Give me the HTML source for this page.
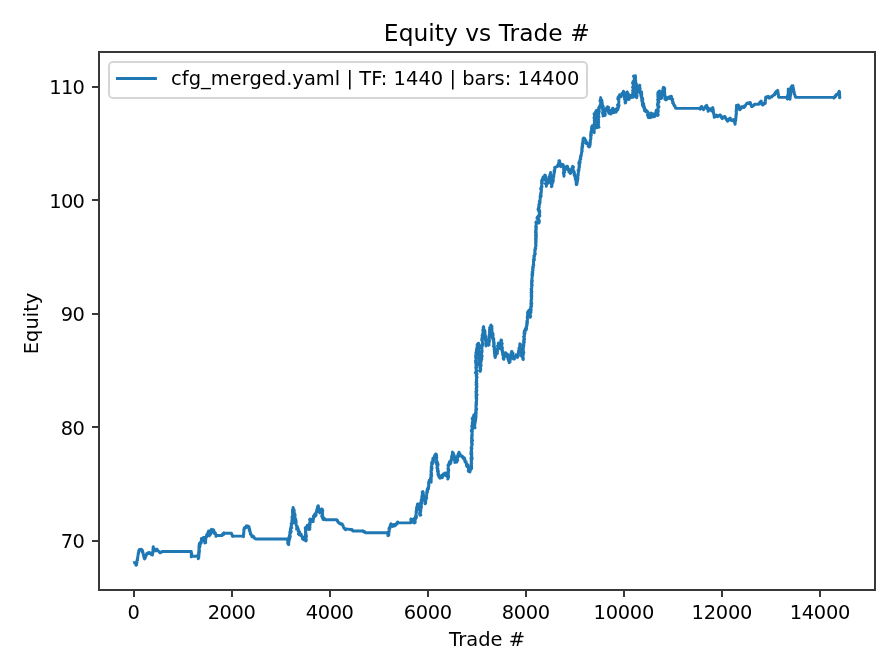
<!DOCTYPE html>
<html lang="en"><head><meta charset="utf-8"><title>Equity vs Trade #</title>
<style>html,body{margin:0;padding:0;background:#fff;}body{width:896px;height:672px;overflow:hidden;}svg{display:block;}text{font-family:"DejaVu Sans","Liberation Sans",sans-serif;fill:#000;}</style></head><body>
<svg width="896" height="672" viewBox="0 0 896 672">
<rect x="0" y="0" width="896" height="672" fill="#ffffff"/>
<path d="M133.44 562.95 L133.76 562.73 L134.09 562.56 L134.43 562.9 L134.66 563.07 L134.74 563 L135.29 563.05 L135.35 563.62 L135.94 563.4 L135.93 565.36 L136.51 564.85 L136.06 564.16 L136.71 563.89 L136.57 563.62 L136.69 563.06 L136.62 562.91 L136.69 562.11 L136.71 561.5 L137 562.35 L136.89 561.86 L136.94 561.42 L136.96 561.76 L136.88 560.97 L137.03 560 L137.19 560.63 L137.1 559.92 L137.56 560.04 L137.31 559.7 L137.47 559.36 L137.58 558.87 L137.41 558.47 L137.72 557.47 L137.66 557.99 L137.79 557.31 L137.8 557.19 L137.9 556.63 L138.08 555.21 L138.05 555.33 L138.06 554.44 L138.46 553.79 L138.22 553.92 L138.3 553.77 L138.32 553.17 L138.44 552.78 L138.26 552.93 L138.69 552.22 L138.83 552.26 L138.49 552.18 L138.87 552.07 L138.85 552.17 L138.8 551.11 L138.69 550.94 L138.74 550.42 L139.02 550.1 L139.32 549.61 L139.54 549.88 L139.91 549.64 L139.84 549.33 L140.18 550.18 L140.52 549.74 L141.12 549.38 L141.06 549.51 L141.37 549.89 L141.89 550.08 L142.1 549.87 L142.23 549.99 L142.65 551.07 L142.28 551.8 L142.63 551.25 L142.76 551.33 L142.77 551.82 L142.94 552.28 L143.11 553.38 L142.97 553.32 L143.29 554.28 L143.24 553.94 L143.36 555 L143.38 555 L143.57 555.06 L143.64 554.71 L143.76 556.01 L143.71 556.14 L143.93 557 L144.04 557.82 L144.37 557.91 L144.3 557.92 L144.27 557.3 L144.52 557.72 L144.61 558.87 L144.56 558.9 L144.62 558.77 L145.09 558.35 L144.94 558.15 L145.11 558.32 L145.02 557.33 L145.27 556.83 L145.17 556.46 L145.54 557.12 L145.74 556.73 L145.57 556.19 L145.74 555.69 L146 556.19 L146.22 555.28 L146.26 555.31 L146.21 555.51 L146.37 554.13 L146.58 554.11 L146.75 553.61 L146.75 553.56 L146.85 554.12 L147.12 553.8 L147.5 553.89 L147.76 553.22 L148.01 553.13 L148.13 552.7 L148.78 553.45 L149.11 552.5 L149.36 553.3 L149.59 553.63 L150.06 553.5 L150.74 552.93 L150.52 553.07 L150.96 553.3 L151.47 553.59 L151.58 554.76 L152.01 554.58 L152.46 555.02 L152.42 553.83 L152.47 554.47 L152.56 554.14 L152.49 553.8 L152.8 553.32 L152.58 552.18 L152.63 552.06 L152.75 552.2 L152.8 551.75 L153.03 551.52 L152.99 550.58 L152.94 550.18 L152.96 550.07 L152.92 549.35 L153.25 549.18 L153.04 549.72 L153.35 549.45 L153.04 548.23 L153.37 547.62 L153.27 546.71 L153.19 546.78 L153.11 547.75 L153.59 547.63 L153.77 548.53 L153.75 548.8 L153.58 548.97 L154.2 548.53 L153.95 548.65 L153.97 549.56 L154.26 550.16 L154.16 549.75 L154.58 550 L154.46 550.33 L154.66 550.9 L154.95 550.65 L155.12 550.42 L155.45 550.49 L155.93 550.16 L156.1 550.89 L156.33 549.54 L156.53 549.92 L156.65 549.37 L157.12 549.2 L157.17 549.56 L157.53 549.93 L157.61 550.31 L157.74 550.54 L157.86 550.77 L158.36 550.83 L158.33 551.13 L158.73 551.4 L159.11 551.35 L159.25 551.94 L159.32 552.17 L159.64 552.4 L160.13 552.63 L160.05 552.86 L160.54 552.58 L160.76 552.47 L161.19 552.09 L161.23 552.33 L161.68 551.77 L161.85 552 L162.18 551.56 L162.52 551.56 L162.87 551.56 L163.22 551.56 L163.56 551.56 L163.91 551.56 L164.26 551.56 L164.6 551.56 L164.95 551.56 L165.3 551.56 L165.64 551.56 L165.99 551.56 L166.34 551.56 L166.68 551.56 L167.03 551.56 L167.38 551.56 L167.72 551.56 L168.07 551.56 L168.42 551.56 L168.76 551.56 L169.11 551.56 L169.46 551.56 L169.8 551.56 L170.15 551.56 L170.5 551.56 L170.84 551.56 L171.19 551.56 L171.54 551.56 L171.88 551.56 L172.23 551.56 L172.58 551.56 L172.92 551.56 L173.27 551.56 L173.62 551.56 L173.96 551.56 L174.31 551.56 L174.66 551.56 L175 551.56 L175.35 551.56 L175.7 551.56 L176.04 551.56 L176.39 551.56 L176.74 551.56 L177.08 551.56 L177.43 551.56 L177.78 551.56 L178.12 551.56 L178.47 551.56 L178.82 551.56 L179.16 551.56 L179.51 551.56 L179.86 551.56 L180.2 551.56 L180.55 551.56 L180.9 551.56 L181.24 551.56 L181.59 551.56 L181.94 551.56 L182.28 551.56 L182.63 551.56 L182.98 551.56 L183.32 551.56 L183.67 551.56 L184.02 551.56 L184.36 551.56 L184.71 551.56 L185.06 551.56 L185.4 551.56 L185.75 551.56 L186.1 551.56 L186.44 551.56 L186.79 551.56 L187.13 551.56 L187.48 551.56 L187.83 551.56 L188.17 551.56 L188.52 551.56 L188.87 551.56 L189.21 551.56 L189.56 551.56 L189.91 551.56 L190.25 551.56 L190.6 551.56 L190.95 551.56 L191.29 551.56 L191.38 552.43 L191.51 552.74 L191.32 553.72 L191.85 553.75 L191.58 553.91 L191.52 553.68 L191.68 554.56 L191.25 554.13 L191.11 554.11 L191.37 555.38 L191.75 555.05 L191.5 556.26 L191.25 556.84 L191.49 556.29 L191.9 556.25 L192.24 556.25 L192.58 556.25 L192.92 556.25 L193.26 556.25 L193.6 556.25 L193.93 556.25 L194.27 556.25 L194.61 556.25 L194.95 556.25 L195.29 556.25 L195.63 556.25 L195.97 556.25 L196.31 556.25 L196.64 556.25 L196.98 556.25 L197.32 556.25 L197.57 555.44 L197.55 555.82 L197.7 555.33 L198.5 555.52 L198.48 558.6 L198.23 558.74 L198.89 557.21 L198.02 555.82 L198.36 556.38 L198.19 556.66 L198.34 556.48 L198.83 556.29 L198.79 555.35 L199.03 555.5 L198.99 554.22 L198.8 554.77 L198.53 552.97 L198.78 551.97 L198.66 552.61 L198.76 551.28 L198.78 550.94 L199.12 550.6 L198.74 550.89 L199.27 552.91 L199.2 553.18 L199.06 552.38 L199.24 552.5 L198.81 552.16 L199.52 550.95 L199.26 549.75 L199.31 548.75 L199.27 547.19 L199.28 547.92 L198.99 547.17 L198.87 549.32 L199.18 548.07 L199.71 546.91 L199.18 546.89 L199.22 545.97 L199.49 546.58 L198.96 546.21 L199.54 545.97 L199.68 546.88 L199.95 546.68 L199.65 544.52 L199.8 544.31 L199.49 543.73 L199.47 543.22 L199.12 545 L200.24 544.66 L199.79 543.45 L199.92 543.42 L200.27 543.22 L200.67 541.78 L200.84 541.84 L201.14 543.05 L201.44 541.87 L202.13 540.47 L201.3 538.65 L202.13 538.38 L201.49 539.67 L202.55 539.14 L202.79 538.33 L203.16 537.66 L202.93 537.99 L203.36 538.55 L203.99 537.22 L203.23 537.57 L204.01 539.04 L204.23 539.42 L204.01 539.09 L204.74 541.64 L204.56 541.81 L205.18 542.45 L205.09 542.2 L205.15 540.98 L205.41 542.03 L205.4 541.71 L205.17 541.73 L204.87 542.99 L205.73 542.65 L205.67 542.31 L205.42 541.98 L205.66 539.89 L205.5 539.93 L205.79 539.49 L205.85 537.95 L205.83 539.77 L205.68 537.98 L206.06 536.82 L205.7 537 L205.89 537.98 L206.41 536.71 L206.33 536.42 L206.55 535.35 L206.82 534.89 L206.68 535.57 L206.86 536.76 L206.79 534.58 L206.74 536.28 L206.71 535.95 L207.05 535.62 L207.13 535.28 L206.59 534.95 L207.08 534.61 L207.47 534.42 L207.47 534.23 L207.17 534.04 L207.95 532.83 L207.64 533.66 L208.56 531.11 L208.43 531.72 L209.05 533.21 L208.66 532.76 L209.4 533.12 L209.57 534.03 L209 534.09 L209.55 534.03 L209.88 534.17 L209.36 535.89 L209.21 535.44 L210.04 534.77 L209.99 534.13 L210.25 533.38 L210.59 534.4 L210.05 531.82 L211.09 532.41 L210.75 530.2 L211.04 530.08 L211.73 530.29 L211.57 530.13 L211.7 530.98 L211.46 529.25 L212.67 531.41 L212.31 530 L213.01 531.49 L213.05 529.71 L213.69 529.87 L213.3 530.37 L213.71 531.33 L213.96 530.94 L214.02 531.61 L213.83 533.15 L214.77 532.29 L214.9 533.22 L214.74 533.89 L215.14 533.61 L215.47 533.02 L215.65 533.79 L216.03 535.32 L215.92 536.32 L216.04 536.33 L216.41 535.49 L216.74 535.49 L217.08 535.49 L217.41 535.49 L217.75 535.49 L218.08 535.49 L218.42 535.49 L218.75 535.49 L219.08 535.49 L219.42 535.49 L219.75 535.49 L220.09 535.49 L220.42 535.49 L220.76 535.49 L221.09 535.49 L221.43 535.49 L221.76 535.49 L222.1 535.49 L222.34 535.09 L222.38 534.27 L222.58 534.75 L223.04 533.63 L223.22 533.82 L223.46 534.73 L223.63 533.3 L223.92 532.8 L224.13 532.88 L224.44 533.21 L224.78 533.21 L225.11 533.21 L225.45 533.21 L225.78 533.21 L226.12 533.21 L226.45 533.21 L226.79 533.21 L227.12 533.21 L227.46 533.21 L227.79 533.21 L228.12 533.21 L228.46 533.21 L228.79 533.21 L229.13 533.21 L229.46 533.21 L229.8 533.21 L230.13 533.21 L230.47 533.21 L230.8 533.21 L231.14 533.21 L231.47 533.21 L231.53 533.85 L231.72 534.13 L231.79 534.39 L231.6 534.44 L231.94 534.61 L232.28 534.92 L232.35 536.18 L232.61 535.82 L232.35 535.82 L232.85 536.44 L233.16 536.16 L233.5 536.16 L233.85 536.16 L234.19 536.16 L234.54 536.16 L234.89 536.16 L235.23 536.16 L235.58 536.16 L235.92 536.16 L236.27 536.16 L236.61 536.16 L236.96 536.16 L237.31 536.16 L237.65 536.16 L238 536.16 L238.34 536.16 L238.69 536.16 L239.03 536.16 L239.38 536.16 L239.72 536.16 L240.07 536.16 L240.42 536.16 L240.76 536.16 L241.11 536.16 L241.45 536.16 L241.8 536.16 L242.14 536.16 L242.49 536.16 L242.84 536.16 L243.18 536.16 L243.53 536.16 L243.22 536.56 L243.42 536.7 L243.08 536.33 L243.42 535.92 L243.43 535.28 L243.63 534.47 L243.47 533.93 L243.76 534.63 L243.75 534.03 L243.56 534.66 L243.77 533.52 L243.8 532.94 L243.82 533.4 L243.55 533.28 L243.86 532.34 L243.87 530.79 L243.84 530.44 L243.74 530.11 L244.06 530.01 L244.11 529.79 L243.89 529.79 L243.94 529.05 L244.16 529.43 L244.27 529.35 L244.23 528.99 L244.13 528.41 L244.29 528.05 L244.39 527.82 L244.55 527.64 L244.83 527.86 L245.37 527.87 L245.71 527.68 L245.99 526.86 L246.22 526.19 L246.45 525.75 L246.84 526.49 L247.12 527.27 L247.35 527.04 L247.92 525.93 L248.17 527.34 L248.29 527.09 L248.66 527.58 L249.06 526.66 L249.2 527.67 L248.99 528.44 L249.19 528.78 L249.44 529.03 L249.41 528.57 L249.7 529.23 L249.61 529.67 L249.28 529.6 L249.28 530.6 L250.04 531.07 L249.72 531.03 L249.64 530.73 L249.96 531.36 L249.93 531.62 L250.12 531.46 L250.24 532.32 L250.15 532.58 L250.58 532.93 L250.29 532.74 L250.34 534.02 L250.4 534.27 L250.87 534.18 L251 534.08 L251.28 535.5 L251.52 535.38 L251.67 535.38 L252.01 536.27 L251.9 536.53 L252.01 536.79 L252.27 537.05 L252.66 536.85 L253.25 536.89 L253.09 536.02 L253.51 536.41 L253.73 536.81 L253.82 537.02 L254.19 537.53 L254.58 537.99 L254.52 538.24 L254.81 538.18 L255.42 538.88 L255.48 538.9 L255.76 538.96 L256.11 538.93 L256.46 538.93 L256.81 538.93 L257.16 538.93 L257.51 538.93 L257.86 538.93 L258.21 538.93 L258.56 538.93 L258.91 538.93 L259.26 538.93 L259.61 538.93 L259.96 538.93 L260.31 538.93 L260.65 538.93 L261 538.93 L261.35 538.93 L261.7 538.93 L262.05 538.93 L262.4 538.93 L262.75 538.93 L263.1 538.93 L263.45 538.93 L263.8 538.93 L264.15 538.93 L264.5 538.93 L264.85 538.93 L265.2 538.93 L265.55 538.93 L265.9 538.93 L266.25 538.93 L266.6 538.93 L266.95 538.93 L267.3 538.93 L267.65 538.93 L268 538.93 L268.35 538.93 L268.7 538.93 L269.05 538.93 L269.4 538.93 L269.75 538.93 L270.1 538.93 L270.45 538.93 L270.8 538.93 L271.15 538.93 L271.5 538.93 L271.85 538.93 L272.19 538.93 L272.54 538.93 L272.89 538.93 L273.24 538.93 L273.59 538.93 L273.94 538.93 L274.29 538.93 L274.64 538.93 L274.99 538.93 L275.34 538.93 L275.69 538.93 L276.04 538.93 L276.39 538.93 L276.74 538.93 L277.09 538.93 L277.44 538.93 L277.79 538.93 L278.14 538.93 L278.49 538.93 L278.84 538.93 L279.19 538.93 L279.54 538.93 L279.89 538.93 L280.24 538.93 L280.59 538.93 L280.94 538.93 L281.29 538.93 L281.64 538.93 L281.99 538.93 L282.34 538.93 L282.69 538.93 L283.04 538.93 L283.39 538.93 L283.74 538.93 L284.08 538.93 L284.43 538.93 L284.78 538.93 L285.13 538.93 L285.48 538.93 L285.83 538.93 L286.18 538.93 L286.53 538.93 L286.88 538.93 L287.23 538.93 L287.52 539.43 L287.68 539.96 L287.41 538.85 L287.46 540.41 L287.8 540.08 L287.56 540.1 L287.37 540.26 L288.05 540.66 L287.83 541.56 L287.71 543.34 L288.01 542.98 L288.42 543.2 L288.21 542.87 L288.25 543.25 L288.21 544.4 L288.21 544.11 L288.77 544.47 L288.61 544.59 L288.72 543.16 L288.7 543.52 L288.68 542.18 L288.47 541.64 L288.66 543.44 L289.04 541.43 L289.01 541.19 L289.04 539.95 L289.2 539.42 L289.77 539.07 L288.91 539.04 L289.41 538.38 L288.66 538.29 L289.34 539.58 L289.16 539.38 L289.04 539.63 L289.32 539.19 L289.27 537.94 L288.86 537.67 L289.45 535.62 L289.43 535.27 L289.76 537.55 L289.71 536.71 L289.97 536.24 L289.5 537.39 L290.29 536.93 L289.91 534.33 L289.9 533.24 L289.84 532.51 L289.75 532.24 L290.11 534.34 L290.28 532.37 L290.63 532.53 L290.42 531.53 L290.23 532.23 L290.36 529.95 L290.31 530.45 L290.32 530.45 L290.56 530.32 L291.26 531.54 L290.28 529.99 L290.61 527.94 L290.72 529.65 L290.44 529.67 L291.42 527.77 L290.71 527.77 L291.4 527.83 L291.81 527.72 L291.07 527.95 L291.37 525.48 L290.9 527.5 L291.45 526.89 L291.15 525.92 L291.72 524.57 L291.14 523.59 L291.54 523.25 L291.54 522.92 L291.82 522.58 L292.2 522.25 L292.22 523.82 L291.8 522.59 L292.4 522.94 L292.15 522.83 L292.29 522.13 L292.34 522.6 L292.69 523.22 L292.06 522.93 L291.61 523.07 L292.32 521.82 L291.98 522.38 L291.89 521.09 L291.93 519.73 L292.72 517.93 L292.51 519.04 L291.84 517.1 L292 517.66 L292.02 517.32 L292.39 516.45 L292.86 517.97 L292.36 516.78 L292.84 518.62 L292.72 518.28 L292.68 517.93 L292.94 517.59 L292.54 515.85 L292.4 516.15 L292.45 515.94 L292.79 513.64 L292.91 513.73 L292.39 512.72 L292.56 513.13 L292.46 510.95 L292.99 512 L293.19 511.98 L292.48 509.93 L293.43 509.59 L292.85 509.24 L293.02 508.9 L292.95 508.7 L293.25 508.22 L293.06 508.07 L293.12 507.53 L293.33 508.13 L293.32 509.8 L293.21 510.41 L293.08 510.55 L293.28 510.92 L293.68 510.18 L293.36 510.72 L293.15 510.24 L293.59 510.83 L294.04 510.32 L294.02 509.81 L293.37 511.26 L293.98 510.87 L294.31 510.39 L294.2 510.94 L293.39 511.68 L293.79 511.2 L293.77 512.97 L294.51 513.93 L294.22 512.24 L294.14 514.19 L294.77 516.55 L294.48 513.72 L294.56 513.54 L294.96 514.14 L295.12 515.7 L294.49 516.71 L294.2 516.89 L294.34 516.27 L294.83 516.03 L294.87 517.53 L294.89 518.24 L295.34 519.55 L294.99 518.97 L294.75 519.05 L295.54 518.57 L294.69 520.16 L294.65 518.91 L295.66 519.14 L295.79 519.16 L295.85 520.37 L295.22 522.16 L295.75 520.63 L295.68 520.24 L296.09 520.57 L296.1 523.62 L295.69 522.28 L295.67 521.66 L295.57 523.3 L295.87 523.3 L295.81 523.99 L296.39 525.72 L296.62 525.64 L297.2 526.26 L296.78 526.59 L296.68 528.04 L296.77 528.35 L297.18 528.67 L296.58 528.98 L296.94 528.19 L297.32 527.88 L297.34 526.76 L297.17 527.61 L298.09 528.64 L297.86 529.04 L297.99 528.07 L298.22 530.73 L298.2 529.84 L298.39 529.79 L298.84 531.1 L298.23 531.63 L298.64 532.14 L298.42 531.07 L299.01 533.02 L299.16 534.04 L298.32 534 L299.08 533.23 L299.17 534.99 L299.53 533.17 L299.23 531.73 L299.67 532.04 L299.37 532.36 L299.51 533.21 L299.25 534.86 L299.88 533.56 L300 533.79 L299.97 535.06 L300.84 533.97 L301.26 534.35 L301.35 534.88 L301.29 535.77 L301.76 536.64 L302.26 536.53 L302.22 537.09 L302.58 539.04 L302.63 537.01 L303.12 539.37 L303.69 539.54 L303.45 539.71 L303.93 539.88 L303.89 538.94 L304.05 538.44 L304.63 538.91 L304.78 540.18 L305.26 540.17 L305.64 538.69 L305.36 539.39 L305.98 540.98 L306.1 540.07 L305.98 539.6 L306.41 539.93 L305.24 537.74 L306.35 537.31 L306.35 535.25 L306.04 536.53 L305.19 536.27 L306.28 536.9 L305.76 535.36 L306.42 535.93 L306.14 537.08 L305.6 536.74 L305.59 536.39 L305.84 534.16 L306.27 535.7 L305.98 535.36 L305.68 534.63 L305.33 534.67 L305.56 533.51 L305.96 533.98 L305.79 532.18 L305.3 532.2 L305.85 530.04 L305.85 531.04 L305.75 531.85 L305.77 530.45 L305.73 531.56 L305.96 530.1 L305.85 528.65 L305.21 527.68 L305.47 530.18 L305.47 529.77 L306.07 528.12 L305.57 529.08 L306.68 527.19 L305.9 527.41 L307.23 525.96 L307.29 525.24 L307.03 526.27 L308.05 525.18 L307.7 527.86 L307.99 526.65 L307.82 526.72 L308.41 529.08 L308.63 529.38 L308.88 528.76 L308.6 526.4 L308.5 527.68 L308.86 527.79 L308.86 528.57 L309.51 527.37 L309.36 527.64 L308.78 528.18 L309.79 529.37 L309.22 528.37 L309.03 527.38 L309.27 528.9 L308.95 526.46 L309.61 526.2 L308.89 527.56 L309.23 526.68 L309.18 527.83 L309.99 527.57 L309.76 527.06 L309.39 525.4 L309.95 524.82 L310.2 523.25 L310.05 525.37 L310.01 524.5 L309.85 524.53 L309.57 524.6 L309.7 522.58 L309.77 523.74 L310.14 522.7 L309.97 522.23 L310.19 522.56 L310.45 522.29 L309.59 519.57 L310.3 521.47 L310.2 519.17 L310.05 519.09 L311.3 520.44 L311.39 519.23 L311.33 520.24 L312.01 521.47 L311.48 520.84 L313.26 521.54 L312.92 520.65 L312.65 520.27 L313.05 519.16 L313.01 519.47 L312.68 519.14 L313.41 519.67 L313.58 517.05 L313.4 516.19 L314.28 515.38 L314.57 514.92 L314.48 516.6 L315.11 516.6 L314.84 515.74 L314.6 514.31 L315.65 514.66 L315.32 516.04 L315.51 514.44 L315.26 514.62 L315.17 514.35 L315.76 515.21 L315.78 515.19 L316.17 515.21 L315.86 513.62 L315.87 513.42 L316.08 512.7 L316.4 511.25 L316.34 511.53 L317.1 509.68 L317.01 509.49 L316.72 509.59 L317.27 510.61 L317.11 512.08 L317.76 511.02 L317.63 508.56 L317.33 509.31 L317.58 507.01 L317.95 507.66 L317.55 506.37 L317.96 506.07 L318.56 507.39 L318.22 505.8 L318.27 506.08 L318.45 507.15 L318.51 507.22 L318.65 508.91 L317.91 510.31 L318.42 510.17 L318.49 510.81 L318.62 510.36 L318.75 510.66 L319.85 511.2 L319.39 509.86 L319.47 509.99 L319.36 509.44 L319.36 511.77 L319.87 512.92 L320.33 512.08 L320.38 512.07 L321.16 511.05 L321.19 510.05 L320.44 511.15 L322.32 509.36 L321.46 508.98 L321.87 510.77 L322.11 509.05 L321.58 508.89 L321.57 509.23 L322.45 509.68 L321.66 511.12 L322.78 510.5 L322.48 512.54 L322.1 510.9 L322.55 513.26 L322.65 514.76 L322.19 514.78 L321.72 515.85 L322.65 515.34 L322.59 516.1 L321.79 516.6 L322.86 515.93 L322.26 515.9 L322.09 515.55 L322.25 517.34 L322.93 518.74 L323.15 519.07 L323.09 519.26 L322.76 518.1 L322.64 518.46 L323.14 519.04 L323.18 518.65 L323.47 519.68 L323.68 518.81 L323.99 519.01 L323.86 517.98 L324.25 518.5 L324.71 518.79 L325.08 519.78 L325.42 519.78 L325.77 519.78 L326.11 519.78 L326.45 519.78 L326.8 519.78 L327.14 519.78 L327.49 519.78 L327.83 519.78 L328.18 519.78 L328.52 519.78 L328.86 519.78 L329.21 519.78 L329.55 519.78 L329.9 519.78 L330.24 519.78 L330.59 519.78 L330.93 519.78 L331.28 519.78 L331.62 519.78 L331.96 519.78 L332.31 519.78 L332.65 519.78 L333 519.78 L333.34 519.78 L333.69 519.78 L334.03 519.78 L334.38 519.78 L334.72 519.78 L335.06 519.78 L335.41 519.78 L335.75 519.78 L336.1 519.78 L336.44 519.78 L336.79 519.78 L337.08 520.49 L337.18 520.95 L337.27 520.99 L337.68 520.6 L337.65 521.64 L337.85 521.67 L338.08 522.18 L338.2 522.01 L338.55 522.55 L338.7 522.92 L339.12 522.94 L339.08 523.37 L339.69 523 L339.47 523.2 L339.92 523.56 L340.26 523.58 L340.14 523.9 L340.92 523.86 L341.03 523.8 L341.1 524.22 L341.78 524.25 L342.01 523.8 L342.02 523.97 L342.41 524.23 L342.61 524.63 L342.71 524.77 L343.18 525.77 L343.04 526.19 L343.61 527.36 L343.61 527.64 L344.09 527.91 L344.51 528.18 L344.57 528.44 L344.44 528.69 L344.93 528.54 L345 529.25 L345.4 529.52 L345.74 529.54 L345.58 529.8 L345.81 529.63 L346.31 529.47 L346.67 528.98 L347.01 529.02 L347.34 529.07 L347.68 529.12 L348.01 529.17 L348.35 529.22 L348.68 529.26 L349.02 529.31 L349.35 529.36 L349.69 529.41 L350.02 529.45 L350.36 529.5 L350.69 529.55 L351.03 529.6 L351.24 529.5 L351.46 530 L352.04 529.62 L352.14 530.39 L352.5 530.01 L352.9 530.99 L352.93 530.93 L353.38 530.94 L353.73 530.94 L354.08 530.94 L354.42 530.94 L354.77 530.94 L355.12 530.94 L355.47 530.94 L355.81 530.94 L356.16 530.94 L356.51 530.94 L356.86 530.94 L357.2 530.94 L357.55 530.94 L357.9 530.94 L358.24 530.94 L358.59 530.94 L358.94 530.94 L359.29 530.94 L359.63 530.94 L359.98 530.94 L360.33 530.94 L360.67 530.94 L361.02 530.94 L361.37 530.94 L361.72 530.94 L362.06 530.94 L362.41 530.94 L362.81 530.67 L363.07 531.2 L363.1 531.54 L363.51 531.54 L363.79 532.09 L363.99 532.06 L364.22 532.01 L364.57 531.45 L364.58 531.78 L365.22 532.33 L365.43 532.68 L365.78 532.68 L366.13 532.68 L366.47 532.68 L366.82 532.68 L367.16 532.68 L367.51 532.68 L367.85 532.68 L368.2 532.68 L368.54 532.68 L368.89 532.68 L369.23 532.68 L369.58 532.68 L369.92 532.68 L370.27 532.68 L370.61 532.68 L370.96 532.68 L371.3 532.68 L371.65 532.68 L371.99 532.68 L372.34 532.68 L372.69 532.68 L373.03 532.68 L373.38 532.68 L373.72 532.68 L374.07 532.68 L374.41 532.68 L374.76 532.68 L375.1 532.68 L375.45 532.68 L375.79 532.68 L376.14 532.68 L376.48 532.68 L376.83 532.68 L377.17 532.68 L377.52 532.68 L377.86 532.68 L378.21 532.68 L378.56 532.68 L378.9 532.68 L379.25 532.68 L379.59 532.68 L379.94 532.68 L380.28 532.68 L380.63 532.68 L380.97 532.68 L381.32 532.68 L381.66 532.68 L382.01 532.68 L382.35 532.68 L382.7 532.68 L383.04 532.68 L383.39 532.68 L383.73 532.68 L384.08 532.68 L384.43 532.68 L384.77 532.68 L385.12 532.68 L385.46 532.68 L385.81 532.68 L386.15 532.68 L386.5 532.68 L386.84 532.68 L387.19 532.68 L387.34 532.85 L387.42 533.08 L387.55 533.61 L387.82 534.55 L388.04 534.12 L387.88 534.97 L387.9 535.68 L388.47 535.42 L388.52 535.35 L388.83 535.31 L388.77 534.14 L388.75 533.74 L388.64 534.14 L388.91 534.87 L388.82 534.41 L388.68 532.9 L388.39 533.28 L388.54 532.12 L388.97 531.66 L389.42 531.57 L389.17 531.84 L388.95 530.16 L389.05 529.77 L389.13 529.25 L388.95 528.69 L389.21 528.58 L389.01 528.98 L389.12 527.95 L389.57 527.7 L389.85 528.79 L389.74 528.92 L389.55 527.28 L389.97 527.91 L389.8 527.01 L390.57 526.12 L390.08 526.9 L390.39 526.51 L390.26 524.95 L390.89 525.51 L390.81 525.75 L390.79 525.06 L390.95 523.78 L391.1 524.39 L391.32 523.95 L391.71 525.51 L391.61 526.1 L391.88 526.21 L392.39 526.47 L392.89 526.39 L392.99 525.49 L393.74 525.04 L393.77 524.57 L393.99 524.56 L394.65 525.95 L394.27 525.06 L395.01 524.49 L394.76 525.74 L395 525.59 L395.68 525.14 L395.65 525.09 L395.88 525.14 L396.46 524.33 L396.52 523.43 L397.28 522.16 L397.84 523.24 L397.9 521.97 L397.93 522.53 L398.25 522.9 L398.59 522.9 L398.93 522.9 L399.28 522.9 L399.62 522.9 L399.97 522.9 L400.31 522.9 L400.65 522.9 L401 522.9 L401.34 522.9 L401.68 522.9 L402.03 522.9 L402.37 522.9 L402.72 522.9 L403.06 522.9 L403.4 522.9 L403.75 522.9 L404.09 522.9 L404.44 522.9 L404.78 522.9 L405.12 522.9 L405.47 522.9 L405.81 522.9 L406.15 522.9 L406.5 522.9 L406.84 522.9 L407.19 522.9 L407.53 522.9 L407.87 522.9 L408.22 522.9 L408.56 522.9 L408.91 522.9 L409.25 522.9 L409.59 522.9 L409.94 522.9 L410.28 522.9 L410.62 522.9 L410.61 521.88 L410.97 522.72 L410.84 521.01 L411.09 521.31 L411.35 519.88 L410.82 519.54 L411.1 519.21 L410.98 518.87 L411.71 519.54 L411.86 519.36 L412.1 521.2 L412.15 520.89 L412.41 522.31 L412.63 522.31 L413.11 521.91 L412.43 521.46 L413.21 521.49 L413.59 520.54 L413.26 519.64 L413.64 519.84 L413.91 519.04 L414.08 518.51 L413.64 519.96 L414.18 520.53 L414.4 521.47 L413.93 519.56 L414.47 521.08 L414.42 520 L414.7 520.68 L414.89 521.64 L414.54 522.98 L415.23 522.35 L414.87 520.83 L415.12 521.41 L415.01 520.09 L415.48 519.2 L415.68 518.28 L415.26 517.95 L415.2 518.11 L415.7 518.18 L415.8 517.92 L415.68 517.21 L415.4 516.99 L415.64 518.23 L415.58 516.91 L416.1 517.19 L415.93 517.13 L416.3 517.81 L416.05 516.53 L416.31 516.57 L416.53 516.74 L416.16 515.23 L416.45 516.21 L415.72 515.56 L416.15 514.64 L416.02 515.2 L415.9 514.87 L416.06 513.87 L416.4 512.74 L416.33 512.65 L416.58 512.04 L416.02 512.24 L416.39 512.25 L416.4 509.41 L416.76 509.93 L416.39 510.16 L416.57 510.04 L416.69 509.66 L416.28 510.73 L416.71 507.4 L416.53 507.37 L416.81 507.96 L417.19 508.58 L417.26 507.88 L417.03 508.33 L417.17 506.64 L417.18 505.8 L417.07 507.11 L417.78 506.26 L417.42 506.93 L417.4 506.2 L417.8 506.26 L417.52 506.23 L418.1 505.84 L417.34 504.38 L417.6 505.23 L417.76 503.86 L418.05 505.22 L418.04 504.36 L418.2 504.01 L418.6 504.93 L418.34 505.79 L418.91 504.71 L418.77 505.16 L418.79 505.94 L418.61 507.08 L418.92 507.95 L419.02 508.3 L418.93 507.85 L419.03 508.08 L419.32 507.02 L419.68 508.32 L419.18 508.81 L418.89 509.72 L419.73 509.42 L419.1 509.71 L419.75 508.9 L419.72 510.37 L419.64 508.47 L419.65 510.37 L419.29 509.97 L420.22 511.22 L419.72 512.56 L420.24 513.66 L419.85 513.3 L420.01 514.33 L419.65 513.8 L420.17 514.46 L419.6 514.28 L420.08 515.25 L420.87 514.87 L420.35 514.78 L420.07 513.45 L420.54 512.29 L420.3 511.66 L420.46 512.66 L420.2 512.21 L420.61 511.95 L420.37 511.79 L420.76 511.16 L420.64 511.15 L420.41 510.87 L420.46 511.18 L420.73 510.84 L420.38 510.49 L420.81 509.85 L421.08 508.39 L421.22 506.67 L420.39 505.51 L420.97 506.23 L421.29 507.86 L421.51 506.55 L420.66 507.02 L420.81 504.99 L421.13 506.18 L421.62 503.33 L421.14 503.3 L421.17 502.5 L421.27 503.64 L421.81 503.61 L420.49 503.07 L421.43 502.08 L420.99 501.51 L421.32 500.34 L421.63 500.01 L421.78 500.04 L421.34 500.72 L421.25 499.68 L421.74 501.96 L421.53 501.6 L421.58 500.39 L421.93 500.01 L421.96 499.39 L422.43 497.6 L421.88 499.17 L421.75 499.92 L421.87 496.84 L422.23 497.03 L422.6 496.91 L422.01 495.54 L421.79 496.33 L422.39 495.48 L422.25 495.31 L422.34 494.09 L422.29 494.01 L422.8 492.97 L422.68 492.64 L422.81 493.09 L422.2 491.97 L422.89 491.63 L423.33 492.94 L422.94 493.3 L423.03 493.24 L423.15 492.14 L423.38 494.59 L423.46 494.43 L423.75 496.46 L424.06 496.72 L423.71 496.99 L424.33 497.25 L424.36 497.58 L424.51 497.92 L424.44 498.25 L424.33 498.59 L424.81 498.92 L424.51 499.26 L424.24 499.59 L424.43 499.93 L424.82 500.26 L424.44 500.6 L425.26 500.93 L425.18 500.45 L424.71 501.6 L424.74 501.04 L425.09 500.52 L425.2 499.69 L425.46 500.21 L425.57 502.12 L425.67 503.02 L425.09 503.8 L425.18 501.14 L425.33 501.28 L425.43 501.75 L425.06 500.81 L425.21 501.46 L425.68 501.66 L425.73 500.94 L425.84 499.68 L426.27 498.73 L426.13 498.85 L425.75 498.38 L425.91 497.6 L425.94 498.25 L426.21 497.89 L425.88 497.43 L426.19 498.2 L425.61 497.71 L426.45 498.59 L426.63 497.2 L426.22 497.92 L426.73 497.58 L426.44 497.25 L426.27 496.91 L426.37 496.57 L426.46 496.19 L426.78 494.41 L426.62 492.52 L427.03 491.64 L427.05 491.38 L426.81 493.49 L426.97 492.38 L426.81 491.68 L427.07 491.57 L427.18 490.76 L427.62 491.95 L426.95 490.3 L427.47 489.48 L427.71 488.29 L427.71 488.45 L427.68 489.41 L427.78 490.19 L427.36 489.01 L427.84 488.06 L428.17 488 L428.13 488.15 L428.41 489.21 L428.5 488.88 L427.95 488.54 L428.31 488.21 L428.05 487.87 L428.6 487.54 L428.16 487.2 L428.59 486.87 L428.65 486.53 L428.98 485.49 L428.54 485.04 L428.71 485.52 L428.8 484.58 L428.76 484.15 L428.51 483.32 L428.72 481.94 L429.47 481.24 L429.25 480.25 L429.64 480.2 L429.51 480.49 L429.74 480.94 L429.98 481.07 L430.59 481.92 L430.88 482.02 L430.42 481.93 L431.18 482.27 L430.81 481.98 L431.12 481.5 L430.76 481.77 L430.52 481.04 L430.51 479.91 L430.5 480.53 L431.35 479.88 L430.4 479.49 L431.06 479.67 L430.72 479.27 L431.27 479.66 L431.19 479.49 L431.21 479.42 L431.03 479.09 L431.16 478.02 L431.38 476.87 L430.84 477.29 L430.93 476.04 L430.89 477.09 L430.37 478.25 L431.17 477.15 L431.09 476.93 L431.8 475.37 L431.12 476.77 L431.16 475.46 L430.75 474.7 L431.41 473.79 L431.36 473.23 L431.53 473.15 L431.1 472.81 L431.11 470.98 L431.41 472.5 L431.39 472.69 L430.96 471.59 L431.21 470.11 L431.84 469.91 L431.47 469.82 L431.27 469.6 L431.46 469.97 L431.78 467.71 L431.15 468.17 L431.43 467.3 L431.84 466.67 L431.23 467.6 L431.94 468.36 L431.39 467.86 L431.71 468.01 L431.46 467.23 L432.08 468.19 L431.31 466.25 L431.45 467.33 L431.37 466.36 L431.76 465.3 L431.59 462.99 L432.32 463.36 L431.7 462.78 L432.44 462.3 L432.03 461.68 L432.53 463.19 L432.21 463.49 L432.12 462.39 L432.53 463.79 L432.17 462.08 L432.6 461.22 L433.17 459.64 L433.46 460.33 L432.76 459.19 L432.93 458.18 L433.1 457.97 L432.91 461.11 L433.76 459.63 L433.74 457.87 L433.4 458.18 L433.84 458.27 L433.28 458.28 L434.41 457.48 L434.32 456.73 L434.83 455.13 L434.98 454.89 L434.55 456.41 L435.2 456.53 L435.44 454.19 L435.88 453.96 L435.45 455.13 L435.94 454.01 L435.76 454.8 L436.36 454.28 L436.1 456.08 L436.8 457.7 L436.22 455.38 L435.87 455.57 L436.65 455.91 L436.35 456.26 L436.37 456.61 L436.46 457.31 L436.81 457.74 L436.52 458.45 L436.25 458.8 L436.77 460.66 L437.04 462.29 L435.59 462.37 L436.88 462.08 L436.57 462.91 L436.76 463.68 L437.43 464.02 L437.34 463.54 L437.67 463.71 L437.5 462.55 L436.45 463.41 L436.69 464.56 L437.21 464.15 L437.41 464.6 L437.28 464.81 L437.49 464.39 L438.13 464.18 L437.66 465.76 L437.58 464.58 L437.09 466.04 L437.98 465.27 L437.14 467.88 L437.94 468.69 L436.87 467.87 L437.05 467.78 L437.66 469.92 L437.98 470.95 L437.39 470.95 L437.49 471.39 L437.87 470.27 L437.48 470.5 L437.81 469.08 L437.41 469.88 L438.28 470.98 L437.88 471.14 L438.39 471.78 L437.88 472.88 L438.19 473.44 L438.25 475.09 L438.34 474.15 L438.27 473.54 L438.32 474.41 L438.44 473.9 L437.91 474.63 L438.54 473.74 L438.32 475.42 L438.9 475.16 L438.85 475.78 L438.66 476.38 L439.85 478.11 L440.09 478.26 L440.42 478.12 L440.15 477.02 L440.92 475.74 L441.26 476.08 L441.51 475.59 L441.51 476.56 L442.41 477.7 L442.62 475.9 L442.34 474.87 L443.07 474.36 L443.72 474.74 L443.22 474.5 L443.27 473.91 L444.17 474.06 L444.32 473.58 L444.35 473.41 L445.02 474.1 L445.15 473.07 L445.54 475.58 L445.96 474.06 L445.59 473.37 L445.8 474.7 L446.73 475.43 L446.84 473.29 L446.73 472.85 L446.9 476.36 L447.64 476.05 L447.73 477.33 L447.61 476.93 L447.46 476.65 L448.25 475.85 L447.59 477.22 L447.96 477.09 L447.85 479.12 L448.43 477.51 L448.32 478.02 L448.64 476.1 L448.09 475.68 L448.32 475.83 L447.97 474.74 L447.69 475.85 L447.92 474.25 L448.57 475.45 L447.95 475.74 L447.86 475.39 L448.39 473.5 L448.45 472.33 L448.39 471.98 L448.79 470.41 L448.17 470.07 L448.44 469.72 L448.66 469.38 L448.21 469.09 L448.4 468.99 L447.99 469.5 L448.17 467.99 L448.4 468.66 L447.96 469.28 L448.13 469.13 L448.03 469.53 L448.04 468.14 L448.56 465.92 L448.45 466.38 L447.9 465.23 L448.14 464.88 L448.72 465.23 L449.1 465.14 L448.36 464.65 L448.97 463.61 L449.08 463.3 L449.03 463.29 L449.39 462.68 L449.27 462.72 L449.91 462.28 L449.42 461.93 L449.98 461.46 L450.34 462.37 L450.65 463.6 L450.3 462.17 L450.7 462.57 L450.35 461.04 L450.57 462.18 L450.8 462.78 L451 461.66 L451.14 460.64 L450.86 461.78 L451.66 459.57 L451.05 459.81 L451.37 458.94 L451.54 459.12 L451.7 458.71 L451.59 457.78 L451.71 456.73 L451.57 456.43 L451.62 456.21 L451.91 457.46 L451.96 455.87 L452.12 456.02 L451.52 457.42 L452.52 457.09 L452.4 456.75 L452.39 456.42 L452.56 453.67 L452.28 454.52 L452.78 453.38 L452.75 452.9 L452.92 454.05 L452.55 452.27 L452.45 452.09 L452.33 452.42 L453.15 453.23 L452.67 453.63 L452.8 453.79 L453.44 453.49 L453.28 452.99 L453.31 453.95 L453.16 455.44 L453.6 456.68 L453.06 456.09 L453.48 456.9 L454.03 456.52 L454.26 455.44 L453.83 457.62 L454.06 457.61 L454.16 459.77 L453.84 458.57 L454.62 457.02 L454.57 460.44 L454.74 459.04 L454.78 458.48 L454.51 460.02 L454.91 460.06 L455.43 461.24 L454.97 459.96 L454.85 460.38 L454.71 461.38 L455.77 461.48 L454.75 462.54 L455.58 461 L456.08 461.36 L455.79 460.46 L456.85 460.06 L456.82 462.23 L457.24 460.72 L457.14 460.05 L456.95 459.76 L457.82 460.34 L457.39 459.8 L457.24 458.33 L457.44 459.65 L457.41 457.01 L457.68 455.83 L457.26 456.22 L457.86 456.23 L457.69 455.41 L457.92 455.92 L457.9 455.82 L458.21 457 L457.9 455.54 L458.67 455.32 L458.66 455.29 L458.31 454.54 L458.22 455.24 L458.09 454.15 L458.43 453.88 L458.99 452.17 L458.54 453.64 L459.47 453.86 L459.48 454.04 L459.87 453.49 L460.07 455.4 L460.21 455.64 L460.6 455.79 L461.04 455.93 L461.41 456.08 L461.79 455.77 L462.12 456.56 L461.87 456.81 L462.41 457.05 L462.45 457.29 L462.39 456.11 L463.05 457.48 L463.29 458.02 L463.11 458.27 L464.02 457.98 L464.27 458.33 L464.04 459.07 L464.04 458.26 L464.42 457.87 L464.21 459.4 L463.75 458.76 L464.58 458.07 L464.62 459.81 L464.55 459.98 L464.86 458.67 L464.82 461.44 L465.06 461.19 L465.53 461.23 L465.5 461.27 L465.22 461.79 L465.35 462.12 L466.12 461.86 L465.68 461.5 L465.85 461.88 L466.02 461.61 L466.03 462.9 L466.72 465.2 L466.98 464.87 L466.29 462.96 L466.94 464.47 L467 464.76 L466.38 465.01 L466.72 466.45 L467.78 464.96 L467.46 464.45 L467.24 464.76 L467.25 465.07 L467.49 465.37 L467.72 465.68 L468.27 466.53 L468.39 467.39 L468.41 469.49 L468.46 470.14 L468.18 470.75 L468.33 471.05 L469.25 471.36 L468.69 471.54 L468.72 470.66 L469.38 470.37 L469.45 469.98 L469.38 470.84 L469.96 469.65 L470.3 470.39 L470.05 471.26 L469.51 471.14 L469.95 471.92 L469.98 470.51 L470.53 470.1 L470.05 468.72 L470.99 468.53 L470.57 469.34 L470.29 467.79 L470.8 468.6 L471.24 468.93 L471.01 469.02 L471.12 466.62 L470.96 466.93 L471.61 468.56 L471.02 466.67 L471.55 466.31 L471.17 466.61 L471.5 467.58 L471.55 467.66 L471.49 467.34 L470.91 464.96 L470.82 465.48 L471.13 464.27 L471.12 464.62 L471.55 465.59 L471.37 465.24 L471.51 464.3 L471.21 464.54 L471.1 463.31 L471.43 462.89 L471.66 463.35 L471.4 462.6 L471.08 461.18 L471.62 460.15 L471.35 459.66 L471.11 458.81 L471.5 460.98 L471.38 461.05 L471.51 459.86 L472.07 457.29 L472.09 459.13 L471.45 459.65 L471.73 459.3 L471.2 458.36 L470.85 458.41 L471.52 457.36 L471.7 457.45 L471.17 457.04 L471.62 456.11 L471.46 454.35 L471.09 452.99 L471.35 454.13 L471.36 454.45 L471.34 455.46 L471.82 455.11 L471.68 454.08 L471.7 454.18 L471.36 454.06 L470.74 453.71 L471.17 453.33 L471.91 453.01 L471.83 452.67 L471.52 452.32 L471 451.48 L471.55 451.62 L471.54 450.22 L471.25 449.51 L471.46 448.18 L471.87 447.91 L471.62 449.6 L471.53 447.2 L471.57 449.17 L471.9 448.82 L471.14 448.47 L471.43 446.79 L471.37 447.06 L471.18 447.15 L471.96 445.51 L472.35 444.16 L471.65 444.49 L471.68 443.32 L472.08 442.92 L471.51 442.14 L471.65 442 L471.43 441.12 L471.72 441.5 L472.59 440.42 L471.88 440.07 L471.8 440.55 L471.78 440.63 L471.68 440.77 L472.24 441.19 L471.87 441.53 L471.96 440.7 L471.92 440.36 L472.04 438.16 L471.95 438.9 L471.45 438.69 L472.04 438.85 L471.85 437.43 L472.08 436.51 L471.8 438.7 L471.6 436.46 L471.99 436.09 L471.84 436.38 L471.83 435.33 L472.3 434.73 L472.13 434.99 L471.69 435.22 L472.24 435.53 L471.98 434.09 L472.33 431.71 L472.28 431.36 L472.39 431.79 L471.95 432.56 L472.06 430.5 L472.13 429.97 L471.49 431.09 L471.85 430.97 L471.29 430.38 L472.25 431.57 L472.06 430.87 L472.36 431.38 L472.08 429.64 L471.74 430.69 L472.56 429.16 L471.85 429.99 L472.59 427.78 L471.9 427.47 L472.28 428.94 L472.59 428.59 L472.49 428.25 L472.21 425.88 L472.53 425.69 L472.27 426.01 L472.08 425.48 L472.44 424.34 L472.29 426.07 L471.72 425.81 L472.57 425.46 L472.52 424.6 L472.23 424.76 L472.61 424.41 L472.56 424.06 L472.89 423.71 L472.18 422.96 L472.26 423.02 L472.62 422.67 L472.81 422.32 L472.42 421.9 L472.72 421.38 L472.62 419.78 L472.64 419.77 L472.78 419.56 L472.1 418.63 L472.3 418.88 L472.98 417.16 L473.21 418.42 L473.93 418.69 L473.41 417.28 L473.93 415.18 L473.87 414.94 L474.41 414.7 L474.12 415.05 L473.64 415.39 L473.9 415.95 L474.09 416.27 L474.23 417.93 L473.71 416.78 L474.45 419.31 L474.29 417.47 L474.2 419.15 L473.66 419.74 L474.11 420.11 L473.89 421.08 L474.72 421.31 L474.29 422.95 L474.56 422.09 L474.69 423.74 L474.05 423.86 L474.24 422.15 L474.09 424.09 L474.95 423.66 L474.31 423.99 L474.2 422.58 L474.62 424.79 L474.66 423.86 L474.64 424.24 L474.56 424.73 L474.74 425.8 L474.83 427.03 L475.04 427.89 L474.08 426.98 L474.35 424.32 L474.83 423.73 L474.55 424.61 L474.85 424.56 L474.47 423.3 L475 422.57 L475.12 422.93 L474.66 422.76 L475.16 421.61 L475.33 421.76 L475.32 421.49 L475.15 421.78 L475.28 419.95 L475.3 419.7 L475.06 420.13 L475.22 419.21 L475.41 421.4 L475.64 420.31 L475.04 418.74 L474.82 418.96 L475.55 419.54 L475.8 418.28 L474.89 419.02 L475.37 418.64 L475.77 418.9 L476.03 417.2 L475.46 417.74 L476.06 417.46 L475.87 414.46 L476 416.09 L475.32 415.36 L474.92 414.28 L475.71 413.9 L475.51 412.74 L476.13 413.9 L475.74 413.93 L476.06 413.35 L475.65 412.38 L476.32 412.37 L476 411.74 L475.7 410.34 L476.44 409.99 L476.32 409.65 L475.89 409.62 L475.96 408.96 L476.26 410.29 L476.69 408.91 L476.09 409.3 L476.15 408.06 L475.83 409.91 L476 408.45 L476.26 407.78 L475.99 409.68 L476.24 409.32 L476.12 408.48 L476.19 408.64 L475.93 408.03 L475.94 405.26 L476.53 404.89 L476.23 405.77 L476.07 404.6 L476.5 403.11 L476.45 404.21 L476.18 404.35 L476.4 404.15 L476.35 404.2 L476 404.37 L476.2 404.5 L476.45 403.22 L476.03 403.81 L476.09 401.83 L476.19 403.12 L476.52 402.51 L476.17 402.43 L476.39 402.09 L476.56 401.74 L476.61 400.58 L476.07 398.21 L476.43 397.67 L476.34 396.89 L476.43 398.22 L476.64 399.02 L476.83 398.62 L476.53 397.41 L476.28 395.4 L475.97 396.09 L476.18 395.8 L476.61 394.13 L476.52 395.18 L476.51 396.27 L475.97 396.57 L477.14 394.69 L476.31 394.95 L476.03 393.16 L476.63 392.11 L475.95 391.37 L476.8 391.02 L476.51 391.53 L476.15 391.94 L476.08 392.53 L476.54 391.57 L476.44 389.32 L476.47 390.61 L476.67 389.76 L476.23 390.87 L476.6 390.76 L476.82 391 L476.63 389.34 L476.62 388.84 L476.36 388.96 L476.7 388.2 L476.38 387.69 L476.08 388.61 L477.11 386.65 L476.17 385.62 L476.45 385.13 L476.55 384.1 L476.17 383.76 L476.59 386.66 L476.57 385.42 L476.65 384.62 L476.97 383.95 L476.03 384.56 L476.77 381.68 L476.75 382.15 L476.48 380.98 L476.5 381.99 L476.04 381.81 L476.68 380.38 L476.39 380.72 L476.51 380.86 L476.45 379.59 L476.49 380.02 L476.31 379.35 L476.73 380.04 L476.6 379.85 L476.42 378.2 L477.15 377.32 L476.97 377.26 L476.59 376.96 L476.14 375.78 L476.39 375.44 L476.37 375.43 L476.32 374.74 L476.64 374.4 L476.56 375.84 L476.53 376.86 L476.25 376.01 L477.08 373.94 L476.4 376.14 L476.73 374.53 L476.77 373.64 L476.41 373.28 L476.33 374.75 L476.42 373.38 L475.38 372.68 L476.5 371.23 L477.06 370.8 L476.37 371.31 L476.34 372.17 L476.06 368.84 L476.34 369.71 L476.1 369.02 L476.2 369.34 L476.35 368.45 L476.17 369.16 L476.48 366.75 L476.32 367.91 L475.68 367.68 L476.22 368.18 L476.63 367.61 L476.11 365.62 L476.46 365.68 L476.82 366.87 L476.01 366.26 L475.97 365.33 L476.45 365.21 L476.79 362.92 L475.71 362.57 L476.35 363.52 L476.01 363.79 L476.11 365.01 L475.75 363.27 L475.62 362.45 L476.12 362.08 L476.39 361.74 L476.22 362.01 L476.17 360.64 L475.73 361.04 L475.45 360.99 L476.18 360.01 L475.76 358.05 L476.1 358.31 L476.45 358.09 L476.09 357 L475.72 358.4 L475.81 357.34 L476.04 357.36 L476.08 358.98 L475.54 355.84 L475.76 356.8 L475.78 356.82 L475.97 357.69 L476.29 357.35 L476.01 356.59 L476.19 356.27 L475.97 356.18 L475.99 354.48 L475.98 354.34 L475.94 352.47 L476.53 351.64 L476.26 351.81 L476.57 351.26 L476.46 352.18 L476.87 350.95 L476.36 349.83 L477.05 349.49 L476.37 349.16 L476.58 349.2 L476.39 349.36 L476.62 348.6 L476.81 347.82 L477.47 347.92 L476.88 348.06 L476.91 347.57 L477.16 346.99 L477.39 346.78 L477.16 345.81 L477.47 345.48 L477.44 345.14 L477.13 344.8 L477.51 345.42 L477.37 344.13 L477.9 344.46 L477.95 344.6 L477.76 344.25 L478.26 343.68 L478.01 343.55 L478.14 344.33 L478.15 344.33 L477.8 343.68 L478.2 344.37 L478.63 343.32 L477.91 344.56 L478.41 344.76 L478.35 343.65 L478.77 345.05 L478.87 346.35 L478.33 346.51 L478.21 346.82 L478.93 346.5 L478.65 348.73 L478.37 347.88 L478.57 347.15 L478.24 349.22 L479.11 348.2 L478.45 349.96 L478.87 350.8 L478.33 350.79 L479.01 351.49 L478.79 350.63 L478.55 352.13 L479 351.63 L478.94 352.49 L478.83 352.37 L479.1 353.57 L478.93 353.92 L478.97 353.42 L479.19 353.27 L479.09 351.52 L478.94 352.9 L478.99 353.94 L478.99 354.02 L479.55 352.89 L479.97 353.24 L479.73 354.04 L478.87 355.36 L478.57 355.09 L479.15 355.75 L479.24 355.68 L479.47 356.91 L479.32 356.77 L479.51 356.02 L479.78 356.7 L479.35 356.72 L479.45 357.59 L479.29 357.41 L479.01 357.76 L479.19 359.24 L479.58 358.46 L479.78 360.55 L479.49 360.89 L479.66 360.89 L479.15 360.18 L479.81 362.19 L479.87 362.4 L479.29 364.35 L479.52 362.54 L479.84 362.17 L479.8 361.94 L479.96 362.29 L479.45 362.67 L480.09 364.41 L479.4 365.24 L480.15 365.23 L479.6 365.37 L480.03 365.21 L479.4 365.09 L480.1 365.78 L480.1 367.34 L480.04 367.86 L479.94 367.43 L480.08 368.93 L480.62 370.26 L479.81 370.61 L480.26 369.27 L480.24 369.47 L479.93 371.24 L480.21 369.79 L480.16 371.48 L480.13 370.88 L480.22 371.37 L480.44 371.03 L480 370.29 L480.2 370.23 L480.09 370.42 L480.2 369.95 L480.39 369.65 L480.52 368.93 L480.76 368.85 L480.23 369.07 L480.14 366.67 L480.44 367.78 L480.89 365.57 L480.12 365.4 L480.53 366.39 L480.28 367.01 L481.14 365.34 L480.95 365.34 L480.41 366.03 L480.95 366.29 L480.62 364.25 L480.97 365.23 L480.59 364.41 L480.77 364.91 L480.88 361.93 L481.38 361.04 L481.1 360.69 L480.8 361.76 L480.74 363.45 L480.91 362.14 L480.58 361.39 L480.59 359.34 L481.13 358.77 L481.76 359.51 L481.29 358.07 L481.8 358.59 L481.26 359.2 L481.07 358.14 L481.45 357.99 L481.62 357.98 L481.75 357.56 L481.44 357.44 L481.5 357.93 L481.23 358.31 L480.91 356.6 L481.7 355.11 L482.17 356.17 L481.82 355.73 L481.76 354.56 L481.54 354.07 L481.61 353.54 L481.15 353.53 L481.5 353.09 L481.46 351.72 L481.54 351.33 L481.87 351.8 L481.87 351.93 L481.72 351.95 L482.09 352.15 L481.31 351.49 L482.09 351.09 L481.83 349.27 L481.92 349.42 L481.76 349.29 L482 348.35 L481.64 347.91 L482.04 347.13 L481.84 346.5 L481.1 346.15 L482.08 346.84 L482.11 346.73 L481.7 347.75 L481.46 347.04 L481.97 345.62 L482.51 344.68 L482.07 345.44 L482.22 345.97 L481.76 344.6 L482.48 345.62 L481.92 345.57 L482.15 345.09 L482.41 344.22 L482.65 343.27 L482.16 340.91 L482.32 340.56 L481.77 340.21 L482.45 339.86 L481.7 339.6 L482.22 339.16 L481.7 339.28 L482.7 338.46 L482.84 338.12 L482.43 338.83 L482.32 339.81 L481.91 338.05 L482.42 337.86 L482.25 336.42 L482.98 337.62 L482.41 337.66 L482.6 336.34 L482.98 335.82 L482.88 336.08 L482.5 334.33 L482.36 335.36 L482.87 333.77 L482.64 334.43 L482.09 335.25 L483.01 335.12 L482.98 334.41 L482.78 334.6 L482.79 335.01 L483.34 333.59 L482.94 333.65 L482.94 331.31 L483.2 332.35 L483.42 333.01 L483 331.66 L483.35 331.81 L483.48 330.53 L482.8 329.9 L483.28 330.51 L483.2 327.79 L483.55 329.26 L483.21 327.38 L483.63 327.51 L483.31 328.1 L483.34 326.85 L483.61 326.52 L483.83 328.27 L483.7 328.82 L483.79 329.99 L483.76 331.17 L484.02 330.72 L484.41 330.37 L484.09 331.26 L484.47 332.51 L484.43 332.67 L484.18 332.44 L484.8 330.49 L484.17 332.63 L484.85 332.4 L484.99 331.31 L485.06 333.25 L484.85 335.19 L485.23 335.53 L485.45 335.88 L484.72 335.79 L484.68 336.41 L484.99 336.91 L485.13 336.44 L485.32 336.14 L485.2 334.66 L484.97 336.12 L484.87 336.33 L485.03 337.2 L485.13 337.68 L485.29 338.49 L485.23 337 L485.75 337.01 L485.93 338.72 L485.31 340.05 L485.37 339.55 L485.74 341.22 L485.82 340.88 L486.04 340.35 L485.75 339.81 L485.7 340.94 L485.99 342.9 L485.96 343.6 L485.76 344.14 L485.65 343.49 L485.67 344.49 L486.39 342.73 L485.98 344.03 L486.76 344.69 L485.88 344.8 L486.02 345.97 L486.39 343.49 L486.5 345.44 L486.91 344.03 L486.63 343.54 L487.24 343.39 L487.12 344.27 L488.49 343.49 L488.65 342.95 L488.35 342.8 L488.75 343.27 L488.81 344.08 L489.1 344.83 L488.56 345.2 L488.81 344.72 L488.63 342.2 L489.1 342.86 L489.56 340.45 L489.07 342.87 L488.81 341.19 L489.14 341 L489.13 340.72 L489.23 339.97 L488.53 339.39 L489.11 339.58 L489.09 339.84 L489.17 337.47 L489.8 337.51 L489.04 337.29 L488.85 336.33 L489.47 336.03 L489.49 335.64 L488.99 336.42 L489.11 335.69 L489.12 337.95 L489.95 335.97 L489.48 335.34 L489.52 335.68 L489.17 334.84 L489.39 333.92 L489.72 335.42 L490.01 334.23 L489.74 333.45 L489.64 333.52 L489.86 333.94 L489.55 332.43 L489.43 330.97 L489.65 330.91 L490.01 329.8 L490.16 329.64 L489.67 329.12 L489.52 329.38 L490.42 328.81 L490.14 328.11 L489.66 327.84 L489.84 327.65 L490.41 327.15 L490.35 327.12 L490.09 327.6 L490.22 326.85 L490.83 327.21 L490.9 327.14 L490.92 325.1 L491.04 324.92 L490.78 325.84 L490.86 325.93 L490.61 327.13 L491.28 326.44 L491.34 326.46 L490.98 326.12 L491.04 326.45 L491.6 326.79 L491.29 327.12 L491.5 327.46 L491.57 327.68 L491.39 326.28 L491.36 327.69 L491.67 327.37 L491.96 326.43 L491.32 326.61 L491.87 327.56 L491.29 328.06 L491.6 327.66 L491.25 329.38 L491.76 328.87 L492.07 328.51 L491.8 329.71 L492.03 330.57 L491.69 331.74 L492.09 332.82 L492.1 332.91 L491.98 333.49 L492.08 333.82 L491.71 333.12 L491.92 334.49 L491.98 334.83 L492.5 333.93 L492.29 333.85 L492.34 333.76 L492.62 332.81 L493.13 334 L492.95 334.18 L492.94 334.85 L492.46 335.31 L492.99 335.44 L492.52 335.99 L493.16 335.53 L492.38 337.69 L493.1 338.44 L492.52 338.59 L493.25 338.45 L493.1 337.9 L493.51 338.13 L493.45 337.95 L493.13 338.25 L493.2 339.87 L493.3 340.51 L493.87 339.35 L493.59 339.78 L493.75 339.53 L493.51 341.97 L493.65 341.87 L494.06 341.94 L493.6 343.37 L494.27 343.54 L494.17 344.71 L493.84 344.85 L493.76 344.75 L494.16 345.38 L493.38 346.29 L493.76 345.97 L494.29 346.23 L494.5 347.05 L493.93 345.05 L493.92 345.44 L494.3 346.67 L494.14 347.28 L494.49 348.3 L494 349.37 L494.39 348.08 L494.18 349.21 L494.48 349.08 L494.74 348.9 L494.83 349.39 L494.63 349.73 L494.66 350.7 L494.99 350.48 L494.25 351.74 L494.61 352.79 L495.12 352.64 L494.61 352.34 L494.75 351.63 L494.49 353.38 L495.02 353.03 L494.79 352.81 L495.19 352.03 L494.91 352.8 L494.83 355.13 L494.7 356.21 L494.68 355.57 L495.11 356.45 L494.7 354.86 L495.09 354.23 L495.06 355.98 L495.2 357.56 L495.56 354.61 L495.1 355.97 L495.07 356.26 L495.7 356.13 L495.62 355.78 L496 354.62 L495.99 353.98 L496.27 353.61 L496.13 354.82 L496.3 353.27 L496.52 353.33 L496.65 353.09 L497.55 353.36 L496.98 353.11 L496.6 350.89 L497.22 350.89 L497.06 352.1 L497.29 351.62 L497.49 351.48 L497.02 350.48 L497.54 348.48 L497.09 349.14 L497.69 349.24 L497.04 348.96 L497.6 349.79 L497.57 349.87 L497.53 349.5 L497.54 349.2 L497.75 348.87 L497.69 348.53 L498.34 348.2 L497.96 347.86 L497.83 346.89 L497.77 345.6 L497.52 345.91 L498.44 344.89 L498.48 342.87 L498.31 343.47 L498.26 343.73 L498.51 344.27 L498.82 344.08 L498.98 345.97 L498.53 346.22 L498.75 346.67 L498.41 345.99 L498.88 346.81 L499.46 346.99 L499.41 347.08 L499.28 347.53 L499.41 348.07 L499.24 347.73 L499.29 347.28 L500.15 348.61 L499.37 346.57 L499.73 346.23 L499.96 346.57 L500.02 345.93 L499.72 346.03 L500.13 347.85 L500.14 346.45 L500.5 345.93 L499.91 345.43 L500.01 343.87 L500.8 344.04 L500.23 344.67 L500.49 342.77 L500.62 343.22 L500.37 343.37 L500.93 342.2 L500.99 341.21 L500.76 340.87 L501.01 340.54 L501.19 340.2 L501.07 339.87 L501.69 340.52 L501 340.28 L501.49 340.83 L501.46 342.01 L501.09 341.87 L501.15 343.38 L501.55 343.51 L501.67 343.06 L500.92 344.16 L501.5 343.62 L502.29 343.63 L501.69 343.83 L501.72 344.52 L501.71 345.38 L501.88 345.53 L501.98 346.23 L501.94 347.42 L502.01 348.5 L501.65 348.55 L502.19 349.41 L502.24 348.45 L502.33 349.58 L502.35 350.45 L502.04 349.33 L502.46 347.86 L501.97 350.55 L502.11 348.64 L502.21 349.11 L501.84 350.65 L502.65 352.27 L502.62 351.73 L502.28 351.85 L502.9 351.21 L502.98 352.05 L502.53 353.38 L502.65 353.53 L502.53 352.72 L503.23 353.03 L502.72 353.7 L503.17 354.63 L502.76 355.24 L503.32 354.2 L503.73 355.12 L503.04 354.79 L503.57 356.05 L503.09 357.85 L503.46 358.56 L503.4 358.9 L503.61 359.16 L503.83 359.32 L503.93 357.68 L503.69 357.45 L503.85 355.36 L503.92 355.04 L504.46 355.01 L504.58 356.14 L504.41 355.88 L504.81 356.74 L504.99 356.74 L505.04 355.76 L505.02 354.31 L505.39 354.58 L505.61 354.68 L505.61 354.14 L505.53 352.59 L506.15 353.09 L505.99 354.34 L506.45 355.15 L505.88 354.8 L506.3 354.43 L506.82 355.09 L506.53 354.55 L507.45 354.28 L507.13 354.22 L507.34 355.21 L507.77 354.63 L507.85 355.7 L507.69 358.32 L507.87 358.82 L508.09 359.13 L508.31 358.77 L508.3 357.41 L508.6 358.95 L508.55 360.4 L508 358.71 L508.83 359.27 L508.85 361.05 L508.71 360.48 L508.66 359.67 L508.64 361.04 L508.93 361.45 L509.17 360.87 L509.46 361.35 L509.14 362.89 L509.39 362.45 L509.95 362.09 L509.4 361.37 L509.56 359.96 L510.22 360.79 L509.3 358.32 L510.09 358.65 L509.65 357.96 L510.11 358.56 L509.85 358.09 L510.12 356.65 L510.08 358.36 L510.4 357.64 L510.67 358.87 L510.84 357.57 L510.58 356.88 L510.44 357.26 L510.27 356.3 L510.81 356.23 L510.54 355.21 L511.26 355.1 L511.07 355.3 L510.93 353.9 L510.93 354.39 L510.97 353.34 L511.78 352.29 L511.7 352.6 L511.61 352.43 L511.55 351.38 L511.94 351.51 L512.06 351.44 L511.89 352.29 L512.04 353.16 L512.13 352.24 L512.07 352.3 L512.25 352.46 L512.6 353.7 L512.31 354.34 L512.77 353.55 L513 353 L512.13 352.91 L513.01 353.09 L512.72 353.89 L512.36 353.72 L512.73 354.6 L513.13 355.94 L513.12 357.46 L513.19 356.79 L513.11 357.38 L513.36 356.71 L513.33 359.06 L513.47 358.14 L513.25 358.19 L514.39 358.96 L514.15 358.68 L513.89 357.8 L514.11 358.13 L514.36 357.85 L515.23 357.01 L514.82 357.29 L515.18 356.04 L515.83 355.77 L515.59 356.23 L515.5 356.16 L515.86 355.38 L516.03 355.27 L516.03 354.78 L516.88 356.99 L517.12 356.22 L516.59 356.7 L517.22 356.07 L517.51 357.41 L517.85 355.96 L517.33 355.61 L517.74 357.05 L517.52 356.33 L517.97 355.66 L518.11 355.46 L518.5 355.51 L518.38 354.65 L518.44 355.19 L518.3 352.73 L518.55 351.66 L518.94 351.32 L518.69 350.99 L518.59 350.65 L519.01 350.77 L519 351.21 L519.35 349.69 L519.39 350.65 L519.15 350.52 L519.18 350.52 L518.91 348.31 L519.62 349.13 L519.75 349.66 L519.31 349.01 L519.68 348.34 L519.64 347.62 L519.64 346.31 L520 346.28 L519.56 346.98 L520.08 348.12 L519.88 346.23 L520.55 345.14 L519.79 345.48 L519.8 343.96 L519.75 345.6 L520 343.84 L520.38 343.99 L519.87 344.34 L520.06 345.12 L520.07 344.52 L520.25 344.83 L520.24 345.27 L520.19 346.44 L520.13 346.56 L520.88 347.91 L520.44 348.6 L520.51 348.27 L521.02 348.97 L521.04 349.15 L520.59 350.45 L521.14 350.1 L520.93 350.33 L521.02 349.74 L521.13 349.96 L520.71 349.12 L521.13 349.32 L521.1 350.88 L521.31 351.6 L521.07 351.16 L521.05 352.23 L521.12 352.59 L521.42 351.33 L521.61 351.86 L521.03 352.15 L521.53 354.22 L521.89 355.04 L521.38 355.87 L521.97 356.38 L521.64 356.46 L521.8 355 L522.32 355.78 L522.54 356.63 L522.79 357.36 L522.7 358.25 L522.79 357.2 L522.68 358.87 L523 359.18 L523.25 359.49 L523.02 358.94 L522.99 357.47 L523.43 358.46 L523.13 357.05 L522.76 355.89 L523.22 354.3 L523.03 354.82 L523.36 354.98 L522.9 354.27 L522.75 353.42 L523.26 353.58 L523.39 354.09 L522.71 352.16 L523.85 352.84 L523.3 351.86 L523.08 352.73 L523.51 353.21 L523.21 353.29 L523.27 352.95 L523.28 352.61 L523.71 352.26 L523.25 351.92 L523.37 351.57 L523.29 350.62 L523.33 349.22 L523.33 348.59 L523.37 348.59 L523.24 348.39 L523.53 347.18 L523.65 346.41 L523.54 345.69 L523.3 345.48 L523.26 345.01 L523.48 345.04 L523.45 347.03 L523.66 346.47 L523.86 344.92 L523.66 343.29 L524.12 342.95 L523.52 342.61 L523.7 342.27 L524.18 341.92 L524.26 341.58 L523.76 341.24 L523.59 340.9 L524.33 342.3 L523.97 340.77 L523.71 340.93 L523.9 339.53 L524.63 339.18 L523.96 338.92 L524.21 338.77 L523.85 338.16 L524.15 338.96 L524.34 338.72 L524.22 339.53 L524.21 338.26 L524.1 337.54 L524.28 338.44 L523.6 336.58 L524.1 336.84 L524.4 337.1 L524.37 335.4 L524.23 336.14 L524.61 334.72 L524.26 334.65 L525.05 333.37 L524.85 333.02 L525 333.13 L524.85 333.13 L524.5 333.54 L523.94 333.47 L524.88 333.44 L524.65 333.84 L524.38 333.5 L524.44 332.31 L524.32 332.67 L524.76 330.81 L524.21 331.38 L524.84 331.25 L524.74 331.2 L525.06 331.16 L524.95 329.77 L525.48 328.62 L525.55 329.31 L525.95 330.41 L525.88 328.55 L526.31 329.82 L526.34 328.85 L526.62 328.49 L526.24 328.64 L526.03 327.42 L526.44 326.45 L526.41 326.45 L526.53 326.33 L526.81 326.58 L526.52 326.18 L526.75 326.32 L526.61 325.15 L526.74 324.37 L526.92 323.51 L526.8 325.66 L527.2 324.55 L527.12 324.36 L527.13 323.29 L526.78 322.54 L527.04 323.31 L527.32 322.97 L527.57 322.35 L526.72 322.93 L527.21 322.58 L527.14 322.23 L527.12 321.62 L527.55 319.62 L527.26 320.44 L526.94 320.84 L527.6 319.8 L527.22 317.78 L527.26 316.71 L527.38 316.4 L527.42 316.62 L527.56 315.67 L527.55 315.32 L527.52 314.97 L527.72 316.1 L527.58 315.47 L527.72 313.93 L527.61 313.58 L527.6 313.23 L527.51 312.89 L528.04 312.54 L527.6 312.19 L527.94 311.98 L528.17 312.97 L528.22 311.28 L528.47 310.99 L528.89 312.44 L528.8 311.89 L528.93 310.13 L529.31 309.84 L529.12 310.48 L529.13 311.07 L529.6 312.91 L529.66 313.72 L529.51 313.56 L529.33 313.59 L529.18 314.31 L529.39 312.87 L529.42 312.86 L529.46 313.35 L529.81 315.46 L529.71 315.37 L529.83 316.13 L529.6 315.01 L529.53 315.4 L529.66 315.62 L529.78 316.46 L529.92 316.74 L530.05 316.76 L530.21 317.41 L530.51 316.76 L529.93 316.08 L530.25 315.75 L530.73 316.21 L530.17 314.8 L530.17 315.41 L530.41 316.36 L529.99 314.77 L529.98 313.84 L530.2 314.18 L530.53 313.1 L530.2 313.43 L530.29 313.31 L530.61 312.86 L530.98 312.38 L530.57 310.82 L530.56 312.07 L530.77 311.81 L530.56 312.31 L530.73 311.54 L531.23 310.2 L531 310.26 L530.69 310.83 L530.7 309.29 L531.18 307.51 L530.66 306.93 L531.3 307.16 L531.16 307.75 L531.14 306.67 L530.91 306.97 L531.59 306.14 L530.83 307.82 L531.36 305.2 L531.27 306.26 L531.47 305.11 L530.94 304.69 L531.16 305.73 L530.96 305.73 L531.15 303 L531.32 303.9 L531.44 301.61 L531.13 301.38 L531.82 303.61 L530.82 303.42 L531.13 302.72 L530.93 301.16 L531.34 301.37 L531.09 301.55 L531.39 299.96 L530.98 301.53 L531.16 299.86 L531.76 299.1 L531.49 299.49 L531.36 299.69 L531.41 298.02 L531.7 296.85 L531.51 298.13 L531.2 297.27 L531.2 295.73 L531.69 295.5 L531.4 294.66 L531.51 295.18 L531.34 294.8 L531.85 296.17 L531.19 295.26 L531.61 294.52 L531.3 294.49 L531.76 295.3 L531.47 294.9 L531.55 294.61 L531.74 293.44 L531.49 293.66 L531.77 293.57 L530.98 292.8 L531.36 292.02 L531.7 291.36 L531.5 291.18 L531.64 291.84 L532.04 291.5 L531.17 290.3 L531.6 289.96 L531.1 288.68 L531.72 288.83 L531.45 288.49 L531.77 288.25 L531.87 286.54 L531.87 286.08 L531.48 285.96 L532.24 285.07 L531.58 284.63 L531.68 284.28 L531.54 284.36 L531.67 283.74 L531.81 283.25 L531.95 282.9 L531.74 283.11 L531.44 283.41 L531.81 283.44 L531.65 283.76 L531.96 282.56 L531.47 283.4 L531.83 283.54 L531.56 281.07 L531.83 281.24 L531.65 281.88 L532.31 281.75 L531.94 281.58 L531.4 281.34 L532.24 280.52 L531.81 280.78 L532.03 279.14 L531.76 279.03 L532.11 277.45 L532.04 278.28 L531.82 278.93 L532.18 277.64 L532.21 276.49 L532.24 276.12 L531.9 275.66 L531.92 275.74 L532.16 275.61 L532.43 275.23 L531.93 274.59 L532.34 274.9 L532.07 274.9 L532.66 275.3 L532.53 274.96 L532.4 273.31 L532.84 272.88 L532.59 273.93 L532.11 272.79 L532.21 271.52 L532.53 271.44 L533.12 270.18 L532.7 269.16 L532.56 268.82 L532.56 268.48 L532.85 268.45 L532.57 269.07 L532.73 268.43 L532.84 268.05 L532.91 266.78 L532.93 266.42 L533.33 266.22 L533.33 267.84 L533.28 267.01 L532.75 266.83 L533.29 267.07 L533.18 264.82 L533.25 265.99 L533.3 265.09 L533.24 264.9 L533.75 265.16 L533.4 265.04 L533.52 263.83 L533.58 263.88 L533.52 263.28 L533.59 261.83 L533.5 262.31 L533.51 261.94 L533.48 261.57 L533.58 260.81 L533.55 261.8 L533.68 261.7 L533.74 261.51 L533.39 259.59 L533.91 260.31 L534 259.83 L533.72 259.88 L534.41 260.12 L533.9 259.25 L534.35 258.7 L533.94 258.4 L533.96 257.36 L533.88 255.9 L534.14 256.04 L534.24 255.46 L533.9 255.76 L534.64 255.34 L534.57 256.37 L534.61 255.12 L534.52 255.96 L534.71 254.12 L534.59 253.38 L535.3 254.03 L534.8 254.29 L534.88 253.6 L535.07 252.23 L534.83 252.83 L534.86 250.16 L534.93 251.03 L534.79 249.47 L534.99 249.77 L535.27 249.99 L535.24 250.49 L535.33 248.86 L535.76 248.45 L535.37 248.35 L535.38 248.01 L535.18 248.89 L535.22 248.99 L535.44 246.71 L535.66 246.47 L535.69 246.49 L535.74 246.24 L536.04 246.13 L535.94 244.42 L535.67 243.94 L535.99 243.7 L535.66 244.43 L535.8 244.41 L535.71 243.79 L535.69 244.24 L535.96 242.72 L535.79 242.73 L535.49 242.54 L535.72 241.76 L535.94 241.32 L535.85 242.06 L536.15 241.47 L535.6 240.27 L536.1 240.11 L535.75 239.93 L535.43 238.78 L536.3 238.32 L536.12 237.73 L535.9 237.7 L535.95 237.08 L535.67 237.63 L535.75 238.47 L536.4 236.01 L535.52 235.66 L536.07 235.32 L535.68 236.47 L535.88 234.63 L536.06 234.28 L536.26 233.94 L535.9 233.59 L535.64 233.91 L536.2 234.5 L535.82 232.92 L536.29 235.07 L535.78 232.99 L535.93 232.69 L536.31 233.48 L536.04 232.27 L535.35 231.98 L536.32 232.06 L536.17 232.32 L536.01 231.51 L535.65 229.76 L535.79 230.84 L536.08 230.35 L535.98 229.44 L535.6 230.38 L536.03 228.67 L536.18 229.7 L536.35 229.34 L536.07 229.38 L535.78 227.72 L536.03 228.69 L535.76 227.26 L536.23 226.94 L536.47 227.18 L536.02 225.72 L535.72 226.51 L536.22 224.77 L536.1 225.25 L536.27 223.61 L535.85 222.58 L536.16 222.21 L535.98 221.87 L535.95 222.27 L536.71 221.97 L536.85 221.9 L537.44 223.1 L537.31 221.95 L537.76 223.04 L538.19 222.83 L538.56 220.88 L538.6 221.04 L539.38 220.73 L538.62 223.14 L539.27 222.56 L539.26 221.5 L538.94 219.54 L538.43 218.88 L538.09 219.62 L537.93 218.25 L538.52 217.94 L538.26 218.12 L538.1 217.6 L537.64 218.64 L538.01 218.17 L538.28 217.86 L536.98 218.45 L537.38 216.98 L537.1 218.37 L536.99 218.11 L537.52 217.93 L537.96 217.25 L538.26 216.61 L538.22 216.24 L539.07 214.72 L538.89 215.83 L539.21 216.23 L539.8 216.17 L539.68 215.7 L539.74 214.78 L539.28 213.5 L539.45 212.57 L539.89 212.26 L539.63 211.95 L539.15 212.21 L538.91 211.55 L538.99 211.02 L539.05 210.71 L539.63 210.4 L538.32 210.09 L538.57 209.78 L538.44 209.47 L537.93 209.16 L538.23 208.85 L538.24 209.23 L538.4 208.84 L538.38 208.51 L538.08 209.1 L538.49 208.95 L538.84 208.38 L538.7 207.77 L539.23 207.58 L538.56 207.03 L539.02 207.97 L538.83 206.34 L539.27 207.12 L538.98 205.55 L539.43 205.46 L539.28 204.6 L539.44 204.63 L538.81 204.51 L539.46 204.7 L539.51 204.2 L539.53 203.69 L539.51 202.14 L539.83 201.49 L539.28 201.38 L539.53 201.54 L539.92 201.78 L540.01 201.73 L540.07 202.82 L539.56 202.38 L539.76 200.98 L540.03 200.81 L539.91 200.25 L539.74 201.14 L540.15 199.85 L540.11 198.14 L540.25 197.69 L540.54 197.76 L540.09 196.76 L540.2 196.94 L540.25 197.4 L540.65 196.02 L540.5 195.13 L540.54 194.8 L540.42 195.3 L540.33 195.38 L540.98 195.05 L540.85 196.45 L541.2 196.12 L540.65 195.03 L540.69 195.34 L541.1 193.87 L540.77 194.68 L541.03 192.88 L540.77 194.03 L540.8 192.4 L541.22 192.95 L541.01 192.57 L541.29 192.08 L541.44 190.83 L541.21 189.66 L540.62 188.72 L540.63 189.15 L541.38 188.75 L541.35 189.74 L541.35 188.21 L541.53 189.11 L541.25 187.71 L541.37 187.34 L540.97 187.55 L541.94 186.8 L541.64 185.52 L541.93 186.93 L541.71 185.44 L541.49 186.71 L542.08 186.87 L541.48 186.12 L541.88 185.35 L541.76 183.97 L541.72 183.81 L541.54 183.25 L541.59 182.77 L541.9 183.5 L542.26 183.54 L542.21 181.98 L541.83 181.06 L541.56 181.97 L542.31 180.13 L541.99 181.94 L542.11 180.77 L541.51 180.66 L542.41 179.9 L542.56 179.65 L542.78 178.77 L542.39 178.98 L542.74 179.16 L543.32 179.73 L542.91 177.3 L543.37 176.79 L543.89 176.91 L544.02 178.12 L543.78 176.67 L544.44 177.01 L544.42 176.25 L544.76 175.66 L544.65 175.41 L544.81 175 L545.54 176.7 L545.28 175.1 L545.47 177.02 L545.76 177.37 L545.6 177.4 L545.35 177.98 L545.25 177.82 L545.9 177.07 L546.05 176.99 L546.13 177.09 L545.5 177.11 L545.85 177.74 L545.8 180.11 L546.08 178.6 L545.75 179.69 L545.89 180.04 L545.65 179.89 L545.96 181.17 L546.13 182.29 L545.85 182.91 L545.6 183.26 L545.53 183.61 L546.23 183.95 L546.3 184.23 L546.02 183.62 L546.05 184.41 L545.3 183.55 L546.11 183.1 L546.36 183.14 L546.47 183.43 L546.35 186.27 L546.31 186.29 L546.88 183.2 L546.91 183.4 L546.64 183.46 L546.92 182.33 L547.08 182.04 L547.69 182.01 L547.61 183.09 L547.91 183.2 L547.81 181.63 L547.62 181.86 L547.92 182.41 L548.68 182.47 L548.9 181.74 L548.63 181.01 L549.02 182.02 L548.87 180.19 L548.63 179.15 L549.27 179.73 L548.52 180.68 L549.05 180.35 L549.74 179.34 L548.91 179.13 L549.32 177.87 L549.5 178.08 L549.63 177.26 L549.38 176.97 L549.61 177.23 L550.03 176.12 L549.76 176.87 L550.11 176.7 L549.79 176.34 L549.73 174.97 L550.21 175.99 L550.13 175.5 L550.63 172.39 L550.38 173.93 L550.4 173.56 L549.95 174.52 L550.56 174.57 L550.49 174.12 L550.7 175.91 L550.78 176.89 L550.67 177.64 L550.6 177.62 L550.68 178.77 L550.45 178.37 L550.75 177.48 L550.42 177.77 L550.26 178.39 L550.79 179 L550.53 180.68 L550.81 181.19 L550.55 181.14 L550.95 179.58 L551.01 180.24 L551.21 182.49 L550.74 182.01 L550.77 181.75 L551.54 181.73 L551.4 182.6 L550.86 183.03 L550.97 181.76 L551.56 183 L551.13 183.83 L551.64 183.55 L551.68 185.62 L551.89 186.36 L551.49 186.71 L551.42 186.37 L551.66 186.03 L551.99 185.18 L551.57 184.77 L551.84 185.03 L552.12 184.69 L552.06 184.36 L552.15 183.69 L552.29 183.23 L552.45 182.35 L552.48 182.28 L552.95 182.32 L552.3 180.71 L552.99 181.26 L552.74 180.5 L552.86 180.42 L552.78 181.01 L553.41 180.67 L552.68 180.34 L553.04 179.76 L553 179.67 L553.33 179.19 L553.17 177.42 L553.79 176.83 L553.77 176.33 L553.74 175.75 L553.9 174.97 L553.53 176.08 L554.07 174.33 L553.62 175.14 L554.04 174.66 L553.87 175.15 L553.66 174.74 L553.52 175.12 L553.93 174.97 L553.79 173.8 L554.1 172.77 L554.59 172.43 L554.18 171.58 L554.06 170.6 L554.14 170.77 L554.45 171.34 L554.74 170.8 L554.56 169.28 L554.79 169.52 L554.79 168.81 L554.72 169.11 L555.16 167.73 L554.64 167.4 L555.57 167.5 L555.29 167.47 L555.81 166.95 L556.12 166.8 L556.54 166.66 L557.33 166.51 L557.46 166.36 L557.16 166.55 L557.7 166.06 L557.68 166.24 L557.91 166.32 L557.9 165.11 L557.77 164.9 L557.99 165.25 L558.31 164.69 L558.63 164.84 L558.31 164.22 L558.4 164 L558.4 164.11 L558.77 163.69 L558.49 163.17 L558.56 163.73 L559.23 163.1 L559.13 163.09 L558.94 161.46 L558.9 160.66 L559.59 160.79 L559.49 161.36 L559.84 161.39 L559.5 160.82 L559.54 162.59 L559.86 163.32 L559.79 163.9 L560.18 163.56 L560.18 163.63 L560.91 163.59 L560.72 163.69 L560.34 165.57 L560.45 164.94 L560 164.31 L560.76 164 L560.98 165.05 L560.57 166.22 L560.74 166.66 L561.22 166.35 L561.38 165.58 L562.44 165.89 L562.33 164.41 L562.4 164.8 L563.01 164.44 L563.28 165.36 L563.53 165.57 L563.63 166.83 L563.67 167.6 L564.04 167.94 L563.6 168.01 L563.8 167.48 L563.8 168.68 L563.52 169.22 L564.08 169.04 L563.75 168.6 L563.4 169.17 L563.81 169.02 L563.89 168.24 L563.91 168.63 L564.1 169.86 L564.28 170.5 L563.59 171.94 L563.63 172.64 L563.7 172.4 L563.7 170.67 L563.7 172.75 L563.98 172.61 L563.67 172.57 L563.94 173.24 L564 173.71 L563.88 174.86 L563.69 174.39 L564.19 174.98 L563.89 176.01 L563.95 176.28 L564.13 174.65 L563.31 172.95 L564.29 173 L564.3 172.12 L564.6 172.31 L564.48 171.52 L564.59 171.12 L564.59 170.78 L564.5 170.83 L564.57 170.7 L564.76 169.78 L564.76 170.04 L564.89 170.63 L564.79 169.25 L564.86 169.43 L564.94 168.96 L565.1 167.82 L565.09 168.78 L565.57 168.16 L565.17 167.23 L565.38 168.3 L565.35 167.87 L565.42 168.57 L565.52 168.14 L565.3 167.47 L565.4 167.52 L565.28 167.23 L565.79 167.47 L566.19 167.72 L565.63 167.97 L566.21 167.58 L566.87 167.81 L566.89 167.1 L566.99 166.18 L567.55 166.43 L567.64 167.89 L567.77 169.74 L567.92 168.28 L567.99 167.88 L568.63 170.18 L568.75 168.97 L568.62 170.15 L568.77 171.11 L568.83 170.54 L568.9 172.1 L569.61 172.11 L569.66 171.7 L569.24 171.31 L569.9 172.07 L569.52 171 L569.84 171.18 L570.01 171.99 L570.32 173.51 L570.57 171.5 L570.77 173.01 L570.5 171.08 L570.95 170.7 L571.18 172.26 L571.17 170.73 L571.07 169.59 L571.6 170.59 L572.02 169.88 L571.81 169.02 L571.87 169.84 L572.11 168.79 L572.37 167.71 L571.96 168.13 L572.38 168.59 L572.39 167.38 L572.78 166.98 L572.53 166.31 L572.88 166.44 L573.25 167.94 L573.41 166.97 L572.77 167.63 L573.44 167.51 L572.97 168.43 L572.97 169.14 L573.4 170.88 L573.36 170.35 L573.52 171.15 L573.48 171.43 L573.72 172.22 L573.9 172.55 L573.93 171.91 L574.28 171.82 L574.09 171.85 L574.36 173.71 L574.15 174.23 L574.31 172.87 L574.36 174.66 L574.37 174.84 L574.04 174.86 L574.86 173.94 L574.57 175.12 L574.44 173.83 L574.66 175.35 L574.8 175.69 L574.75 175.91 L574.48 175.76 L574.72 176.65 L575.24 176.21 L575.44 177.06 L575.4 177.89 L575.22 179 L575.23 179.15 L575.65 179.66 L575.5 177.87 L575.97 178.34 L575.78 179.94 L575.83 180.02 L575.99 179.51 L576.03 181.11 L576 182.41 L576.06 181.98 L576.65 181.78 L576.1 182.9 L576.5 183.29 L576.61 183.56 L576.24 184.61 L576.42 184.57 L576.66 184.54 L576.64 184.64 L576.94 184.26 L576.36 183.01 L576.97 183.84 L577.05 182.49 L577.1 182.11 L577.34 182.43 L577.26 180.2 L576.95 180.69 L577.38 180.61 L577.19 179.06 L577.12 179.95 L577.49 179.63 L577.63 180.4 L577.54 180.25 L577.91 178.99 L577.3 179.58 L577.57 178.69 L577.49 177.93 L578 177.64 L577.62 178.09 L577.49 176.68 L577.81 177.33 L577.83 176.03 L578.05 175.14 L577.87 174.67 L578.22 174.47 L578.19 175.75 L578.29 175.29 L578.16 173.74 L578.39 172.61 L578.43 171.81 L578.44 171.47 L578.79 171.12 L578.89 170.78 L578.04 170.43 L578.68 170.09 L578.59 169.74 L578.32 170.59 L578.87 170.1 L579.05 169.31 L578.81 170.1 L579.08 169.6 L578.74 169.13 L579.03 167.89 L579.01 167.95 L579.24 167.71 L579.1 167.88 L579.06 166.81 L579.49 166.9 L579.31 165.72 L579.08 166.22 L579.4 166.49 L579 165.62 L579.25 164.78 L579.15 165.45 L579.45 165.08 L578.72 162.86 L579.72 162.51 L579.99 163.15 L579.67 164.19 L579.97 162.49 L579.61 163.18 L579.8 162.42 L579.16 162.01 L579.78 161.53 L579.75 161.33 L580.18 161.66 L580.01 160.94 L579.64 160.97 L580.02 159.78 L580.14 159.65 L580.2 158.53 L580.2 158.3 L580.72 159.11 L580.67 158.46 L580.76 158.34 L580.64 156.69 L580.79 156.97 L580.8 157.3 L580.52 156.5 L580.62 156.15 L580.96 155.05 L581.26 155.93 L580.74 155.79 L581.21 155.31 L581.38 153.73 L581.56 152.75 L581.6 152.61 L581.6 152.8 L581.74 152.95 L581.52 152.18 L581.72 152.58 L581.87 151.14 L582.15 151.25 L582.1 150.01 L581.98 149.67 L582.17 150.04 L581.79 150.06 L581.73 149.16 L582.01 148.3 L581.99 147.95 L581.91 147.61 L582.02 147.26 L581.88 147.62 L582.4 147.85 L582.25 147.32 L582.36 145.89 L582.11 145.9 L582.37 145.2 L582.33 146.61 L582.36 146.26 L582.55 146.93 L582.53 146.48 L582.77 145.22 L582.23 144.04 L582.77 143.87 L582.67 142.85 L582.75 142.84 L583.39 143.25 L583.12 143.21 L582.67 142.01 L582.9 141.17 L583.12 141.47 L583.39 140.68 L583 141.55 L583.13 139.87 L583.18 139.09 L583.18 138.96 L583.29 140.72 L582.92 139.49 L583.38 139.33 L583.28 138.21 L583.51 138.96 L583.82 137.95 L584.06 139.29 L584.52 138.36 L584.3 138.63 L584.27 138.9 L584.59 139.18 L584.88 139.45 L585.23 139.72 L585.57 139.99 L585.91 140.27 L586.07 141.1 L586.42 142.38 L586.31 142.87 L586.33 143.63 L586.57 143.39 L587.04 143.54 L586.96 143.35 L587.02 142.68 L587.87 143.49 L588.19 144.85 L588.12 145.99 L588.33 146.24 L588.39 146.23 L588.72 145.91 L588.56 145.97 L589.09 146.92 L589.1 146.07 L589.57 146.86 L589.79 145.57 L589.28 144.69 L589.97 144.79 L590.07 145.44 L589.74 144.06 L589.82 144.12 L589.59 144.47 L589.46 144.5 L590.29 144.17 L590.05 143.42 L590.29 142.62 L590.46 142.35 L590.23 141.2 L590.39 139.56 L590.14 141.26 L590.41 140.72 L590.35 140.66 L590.33 140 L590.2 140.73 L590.3 140.48 L590.65 139.21 L590.68 139.81 L590.89 138.32 L590.72 137.77 L590.93 136.68 L590.94 138.41 L590.66 137.03 L590.61 135.18 L590.57 134.54 L591.31 134.55 L591.04 135.77 L591.43 134.87 L591 134.38 L591.31 132.74 L590.85 135.33 L590.89 132.69 L590.89 131.76 L591.22 132.02 L591 131.76 L591.24 133.01 L591.34 131.81 L591.32 130.84 L591.18 131.72 L591.56 129.63 L591.69 130.83 L591.67 130.16 L591.86 129.6 L591.69 129.82 L591.62 129.3 L591.47 128.38 L592.05 129.33 L592.02 127.32 L592.18 126.6 L591.61 127.02 L592.26 125.65 L592.41 127.77 L592.35 127.77 L592.48 128.76 L592.47 128.81 L592.73 128.14 L592.91 128.93 L592.89 129.38 L593.03 129.57 L593.56 130.64 L592.79 129.49 L593.33 130.43 L593.65 131.58 L593.83 131.74 L593.68 132.05 L594.23 132.52 L594.27 132.7 L593.96 130.71 L594.23 132.04 L594.14 130.37 L594.14 130.21 L594.09 129.89 L594.2 129.17 L594.25 127.24 L594.03 127.46 L594.8 128.48 L593.4 129.09 L594.32 128.03 L594.77 127.23 L594.75 125.52 L594.72 126.92 L593.99 126.68 L594.33 125.93 L594.26 125.04 L594.24 125.52 L594.46 124.06 L594.57 123.96 L594.37 125.05 L594.21 123.95 L594.62 124.19 L594.22 124.65 L594.46 124.31 L594.23 123.96 L594.25 123.09 L594.46 122.35 L594.84 121.88 L594.23 120.47 L594.59 121.67 L594.4 119.67 L594.7 118.76 L593.94 117.8 L595.22 117.47 L594.29 117.46 L594.41 119.02 L594.23 117.13 L594.86 117.02 L594.49 117.45 L594.49 116.34 L594.7 115.02 L594.58 116.24 L594.84 116.62 L594.89 115.33 L594.74 117 L594.46 116.3 L594.48 115.29 L594.05 113.9 L595.46 114.47 L594.89 113 L595.31 113.41 L595.25 112.11 L595.67 113.46 L596.05 111.64 L596.25 110.66 L596.6 110.45 L596.2 110.63 L597.19 110.18 L596.65 110.72 L597.42 113.13 L597.1 114.98 L596.39 114.54 L597.33 115.29 L597.35 115.14 L597.31 113.82 L597.48 114.21 L597.86 117.03 L597.83 116.02 L596.9 116.58 L596.98 118.06 L597.02 118.39 L597.16 118.14 L596.7 119.09 L596.87 117.68 L597.28 118.54 L596.91 119.23 L597.36 118.17 L597.04 120.15 L597.75 117.03 L597.84 119.41 L597.55 118.01 L596.99 118.79 L597.26 118.47 L596.87 118.92 L597.18 120.39 L598.06 121.02 L598.04 122.04 L597.36 122.83 L597.85 123.17 L597.99 123.75 L597.88 123.6 L597.86 122.14 L597.58 122.13 L597.46 123.39 L597.59 123.63 L597.46 124.18 L597.89 125.65 L597.49 127.47 L597.61 127.53 L597.37 127.72 L597.93 127.16 L597.79 127.26 L597.31 127.62 L597.87 125.61 L597.08 125.57 L598.34 125.05 L597.86 126.3 L598.46 126.19 L598.99 127.12 L597.82 126.44 L597.61 123.85 L598.15 121.98 L598.5 124.83 L597.41 122.49 L598.7 122.06 L598.02 123.94 L598.69 124.6 L598.16 124.25 L598.18 122.95 L597.85 122.94 L597.92 119.74 L598.66 119.83 L598.32 118.14 L597.76 119.36 L598.49 121.51 L598.13 118.23 L598.15 117.39 L598.15 119.86 L598.52 118.92 L598.22 117.39 L598.97 116.83 L598.18 117.35 L598.51 115.06 L598.19 115.18 L598.7 116.61 L598.89 116.49 L597.86 115.6 L598.74 114.15 L598.39 114.33 L598.64 113.13 L599.02 112.53 L598.44 111.5 L599.36 111.15 L598.66 110.8 L598 112.8 L599.11 110.33 L598.96 109.87 L598.32 111.91 L598.79 112.97 L598.37 109.62 L599.19 108.74 L598.68 107.94 L599.3 107.94 L598.92 110.12 L599.27 108.87 L599.52 107.9 L599.43 108.12 L599.16 106.87 L599.35 107.93 L598.9 108.09 L599.1 106.9 L599.27 107.72 L599.78 107.23 L599.73 107.32 L599.32 107.81 L599.62 107.04 L599.98 107.22 L600.38 105.38 L600.72 103.95 L600.17 105.57 L599.86 105.65 L600.26 105.03 L600.75 103.12 L600.82 102.37 L600.05 100.89 L600.35 101.62 L600.58 101.97 L600.9 101.18 L600.86 100.43 L600.49 100 L600.85 101.97 L600.48 100.08 L600.3 101.17 L600.73 97.59 L600.46 101.23 L601.21 100.57 L599.95 100.9 L600.4 99.79 L600.98 99.35 L601.46 100.03 L601.21 100.87 L601.18 100.83 L601.17 101.98 L601.9 100.16 L600.31 101.63 L600.76 100.72 L601.24 100.32 L601.78 101.7 L601.75 101.91 L601.3 101.19 L601.86 101.02 L602.44 104.88 L601.98 101.47 L601.93 101.8 L601.74 103.8 L602.1 104.15 L601.6 102.81 L601.94 104.26 L602.48 106.23 L602.24 106.75 L602 106.87 L603.02 105.79 L602.48 108.03 L602.33 105.95 L602.72 107.64 L603.43 107.24 L602.55 107.96 L602.56 109.85 L603.28 110 L602.93 111.08 L603.06 112.1 L602.56 112.61 L603.52 112.95 L602.96 112.43 L603.12 113.62 L602.67 113.95 L603.5 114.29 L603.1 113.48 L603.04 114.96 L603.56 115.29 L603.44 115.63 L603.05 115.96 L603.13 114.94 L603.7 112.58 L604.96 115.47 L604.2 113.77 L605.37 114.49 L604.86 112.96 L604.79 114.16 L605.43 111.29 L605.67 109.86 L606.14 109.59 L605.35 109.31 L606.14 110.21 L606.21 109.16 L606.33 108.94 L606.37 108.59 L606.57 107.94 L607.01 107.67 L607.41 107.39 L607.24 107.12 L607.75 106.85 L607.15 107.11 L608.76 107.37 L607.99 108.39 L608.31 108.32 L608.7 110.26 L608.14 110.83 L608.89 113.38 L608.94 111.96 L609.27 111.08 L609.72 110.99 L609.98 113.46 L609.41 110.35 L610.36 110.83 L610.54 111.64 L610.82 113.67 L611.32 112.54 L610.74 114.11 L611.61 113.01 L612.06 109.9 L611.86 109.87 L612.3 108.61 L612.51 109.68 L612.92 108.21 L612.47 109.62 L613.08 109.5 L613.07 112.18 L613.25 110.82 L613.2 110.9 L613.38 111.02 L613.35 111.25 L613.81 112.71 L614.39 112.18 L614.04 111.76 L614.11 110.66 L614.29 111.9 L614.83 110.71 L614.83 109.77 L615.48 110.03 L615.49 110.95 L616.22 111.37 L615.91 112.13 L616.95 110.44 L617.02 108.62 L616.25 108.86 L617.25 108.92 L617.28 108.31 L617.73 109.9 L617.23 110.27 L618.13 108.6 L617.61 108.18 L618.01 108.68 L618.33 108.31 L618.59 105.12 L618.15 105.61 L618 105.34 L618.33 106.02 L618.3 107.45 L617.53 104.96 L618.46 105.9 L618.84 106.41 L618.74 106.06 L618.23 105.72 L619.09 105.37 L618.17 104.08 L618.67 104.41 L618.68 103.31 L618.92 102 L618.29 99.03 L618.76 101.15 L618.7 98.49 L618.82 98.91 L618.39 98.69 L618.25 97.27 L618.7 96.92 L618.53 96.71 L618.87 100.09 L618.05 97.46 L618.95 97.07 L617.67 98.88 L618.88 96.62 L619.55 95.12 L619.56 94.77 L619.83 96.49 L619.8 95.77 L620.63 96.22 L620.47 96.31 L621.57 94.67 L620.35 96.98 L621.17 96.63 L621.62 94.24 L622.66 94.97 L622.29 93.24 L622.02 93.26 L623.27 92.44 L623.6 94.53 L623.08 92.39 L624.08 93.22 L623.19 92.41 L623.41 91.26 L624.14 92.97 L623.75 92.27 L623.55 92.41 L623.66 93.33 L623.75 95.25 L623.99 95.11 L624.2 94.31 L624.59 93.89 L624.18 96.15 L624.47 95.32 L624.6 98.35 L624.75 95.36 L625 97.09 L624.51 96.55 L625.35 97.29 L624.51 99.28 L624.49 96.65 L625.78 98.2 L625.19 98.38 L625.26 98.24 L625.03 100.54 L625.24 98.46 L625.08 102.8 L625.55 102.82 L625.34 100.48 L625.28 103.13 L625.79 102.58 L625.69 102.32 L625.2 102.55 L625.57 101.55 L625.95 99.67 L625.44 98.13 L625.33 100.55 L625.77 101.79 L625.89 100.56 L626.13 100.11 L625.85 100.78 L625.93 98.87 L626.53 99.69 L626.41 98.25 L626.3 97.02 L626.93 97.04 L626.86 98.32 L626.61 96.91 L626.61 95.1 L627.15 94.74 L626.96 92.87 L626.76 93.04 L626.57 92.52 L627.16 91.87 L626.89 93.72 L626.44 94.16 L626.8 93.02 L627.47 92.47 L627.77 93.29 L627.89 93.09 L628 93.63 L627.25 94.38 L628.87 94.72 L628.03 96.55 L628.49 95.57 L628.15 97.5 L628.78 97.27 L628.63 97.87 L628.88 99.63 L629.23 98.15 L629.21 99.01 L629.45 97.41 L629.93 98.26 L630.1 97.45 L630.01 98.14 L629.75 97.86 L630.47 96.63 L630.95 97.3 L630.56 95.37 L631.47 96.33 L631.38 95.17 L631.78 97.18 L631.62 97.41 L631.83 95.14 L632.48 95.26 L632.45 96.96 L632.84 96.63 L632.27 95.68 L632.89 96.37 L633.28 96.05 L633.16 97.23 L632.45 94.45 L633.35 95.25 L633.33 95.74 L632.69 93.31 L633.12 92.95 L633.37 93.14 L633.02 92.68 L633.16 92.04 L632.91 92.41 L632.71 92.53 L633.18 93.69 L633.94 90.22 L632.94 91.75 L632.92 93.18 L633 91.73 L633.2 89.75 L632.61 90.55 L634 88.18 L633.01 90.01 L633.18 89.83 L633.2 89.14 L633.09 88.63 L633.25 87.64 L633.09 87.75 L633.79 87.26 L633.14 86.03 L633.78 87.36 L633.56 87.34 L634.24 86.83 L632.48 87.36 L633.43 86.29 L633.08 86.78 L633.11 85.01 L633.7 85.5 L633.07 81.38 L633.52 81.97 L633.31 81.54 L633.42 81.89 L632.48 82.89 L633.61 82.17 L633.49 82.42 L634.15 83.43 L633.42 83.08 L633.04 82.24 L633.37 81.15 L633.79 82.04 L633.61 81.69 L633.59 81.34 L634.17 79.83 L634.52 77.26 L633.47 76.01 L634.77 79.41 L634.9 77.08 L634.5 78.62 L635.06 76.93 L635.03 76.9 L635.03 78.12 L635.42 76.16 L635.39 75.78 L634.39 75.89 L635.51 76.24 L635.52 78.53 L634.9 79.23 L635.2 79.29 L634.88 81.35 L635.46 82.44 L635.81 80.48 L635.28 81.87 L635.03 82.08 L635.66 80.46 L635.43 80.21 L635.45 81.65 L635.16 81.06 L635.58 82.31 L635.42 84.09 L635.8 84.17 L636.43 83.51 L635.28 83.63 L634.88 83.07 L635.42 83.97 L635.51 83.17 L635.3 83.52 L635.62 83.95 L635.22 84.47 L635.49 85.6 L635.25 84.9 L635.38 89.72 L634.81 87.92 L635.75 88.27 L636.44 86.93 L635.96 88.65 L636.1 88.99 L635.88 88.25 L635.95 87.76 L636.48 88.02 L636.35 88.45 L635.61 88.72 L634.57 89.88 L635.56 90.93 L636.08 92.62 L636.31 94.01 L635.24 94.38 L636.03 95.27 L636.12 94.64 L636.35 94.98 L635.91 95.79 L636.09 94.61 L636.57 95.47 L635.99 96.17 L636.43 95.36 L635.96 95.76 L636.92 96.8 L636.04 96.95 L636.73 97.7 L636.78 95.84 L636.4 94.29 L636.53 95.85 L636.64 96.27 L636.63 96.38 L635.89 96.28 L637.14 95.68 L636.87 95.3 L636.64 95.38 L636.84 95.04 L636.4 93.91 L635.74 90.72 L636.85 92.29 L636.86 91.61 L637.74 90.6 L637.27 92.43 L636.82 92.53 L637.19 91.38 L636.78 91.28 L637.69 90.08 L637.38 91.33 L638.07 91.02 L636.89 90.14 L636.85 88.3 L637.33 88.67 L637.47 87.69 L637.44 85.64 L637.35 86.38 L637.68 86.02 L637.59 86.67 L638.53 88.2 L638.33 85.6 L639.17 86.68 L639.09 87.48 L639.28 87.72 L639.31 85.51 L640.18 88.67 L639.21 88.94 L639.79 85.11 L639.71 87.83 L639.63 89.91 L639.35 89.2 L639.86 89.92 L639.73 90.19 L639.89 88.9 L639.74 90.48 L640.23 90.82 L640.01 92.09 L639.63 92.68 L640.42 93.02 L640.31 93.16 L640.33 92.3 L640.22 92.1 L640.66 94.36 L641.06 92.12 L640.9 92.45 L640.08 91.86 L641.28 94.14 L641.41 91.69 L641.68 91.95 L641.46 94.23 L641.84 94.17 L641.39 97.36 L640.99 95.74 L641.45 96.81 L641.61 96.27 L641.44 96.8 L641.12 96.27 L641.95 97.6 L641.98 96.93 L641.67 97.26 L641.62 98.57 L641.74 99.62 L642.55 98.3 L641.73 100.88 L641.78 101.16 L642.76 100.15 L642.73 98.82 L642.41 100.47 L642.12 100.7 L641.88 99.08 L642.53 100.63 L642.69 102.17 L642.3 100.6 L642.41 101.42 L642.32 102.06 L642.44 105.4 L642.81 104.75 L643.15 106.07 L643.49 105.89 L643.45 106.21 L643.55 106.97 L642.9 106.2 L643.66 103.34 L643.08 103.67 L643.64 104.03 L643.58 104.34 L643.39 104.68 L643.8 106.88 L643.14 105.73 L644.02 105.68 L643.86 107.82 L644.59 107.48 L644.46 109.29 L644.3 109.19 L644.55 107.87 L644.85 109.53 L644.32 109.39 L644.78 109 L645.07 108.75 L644.5 110.86 L645.05 109.37 L644.25 109.7 L645.7 111.72 L645.46 110.19 L646.53 110.34 L646.12 111.21 L645.87 110.64 L646.66 110.79 L646.86 110.94 L647.38 112.13 L647.78 111.8 L648.09 113.32 L647.44 115.27 L648 115.01 L647.67 115.16 L647.9 114.22 L649.02 115.67 L648.63 117.61 L648.8 116.79 L648.3 117.49 L648.93 116.37 L648.68 115.64 L649.36 116.91 L649.23 117.12 L649.71 115.95 L650.1 117.16 L649.63 117.74 L649.73 116.14 L650.62 117.49 L649.58 115.7 L650.37 115.12 L651.14 116.34 L650.65 116.61 L650.49 116.74 L650.7 116.18 L651.3 113.54 L650.94 112.94 L651.76 114.41 L651.62 116.57 L652.16 116.92 L651.76 116.03 L652.9 116.83 L653.72 113.9 L653.04 113.83 L653.74 114.44 L654.16 116 L653.41 116.85 L654.52 116.57 L654.89 116.23 L654.8 115.33 L655.22 115.75 L655.32 114.58 L654.87 115.2 L655.41 114.93 L655.38 114.26 L656.02 111.64 L656.21 110.29 L656.61 114.33 L656.26 114.94 L656.93 113.44 L656.98 113.61 L657.6 115.52 L658.26 114.78 L657.82 115.19 L657.91 111.87 L657.26 110.76 L657.96 110.64 L658.12 111.22 L657.97 111.42 L657.85 113.04 L658.13 111.91 L657.99 110.09 L658.37 111.04 L657.45 111.89 L657.86 109.85 L658.14 110.47 L657.91 109.3 L657.82 108.66 L657.87 110.16 L657.8 109.82 L658.11 108.52 L658.21 106.65 L659.14 106.69 L657.92 106.7 L658.27 108.01 L657.42 104.51 L658.39 103.13 L657.66 103.27 L657.89 104.08 L658.27 104.68 L657.89 103.59 L657.95 102.76 L658.25 101.05 L658.1 102.14 L658.22 100.84 L657.99 100.01 L658.08 99.66 L658.37 100.09 L658.07 99.05 L658.65 100.21 L657.87 100.39 L658.06 100.82 L659.04 101.71 L658.34 101.1 L658.36 101.16 L658.19 100.31 L657.66 99.7 L657.93 99.58 L658.72 99.74 L657.82 96.8 L658.22 95.18 L658.67 96.17 L658.48 95.32 L658.54 93.77 L657.79 94.45 L658.16 94.2 L658.96 95.49 L657.82 95.44 L658.22 94.42 L658.42 94.61 L657.85 92.74 L658.2 92.86 L658.56 91.43 L659.31 91.03 L659.7 91.07 L658.82 91.97 L659.31 94.3 L659.25 94.3 L659.25 95.94 L659.82 93.86 L660.03 93.61 L660.24 96.04 L660.14 96.12 L660.59 93.78 L660.71 94.31 L660.54 95.78 L661.06 94.38 L661.41 94.71 L660.61 95.38 L660.63 96.83 L660.85 98.66 L660.83 96.28 L661.81 95.68 L660.63 97.24 L661.13 98.38 L661.44 98.28 L660.94 97.15 L661.66 97.61 L661.38 96.17 L662.35 93.79 L661.32 94.04 L661.85 92.04 L661.47 91.7 L661.69 92.78 L662.11 94.57 L661.87 91.99 L662.05 92.22 L661.43 93.78 L662.27 91.44 L662.67 91.96 L662.06 91.94 L662.34 91.39 L662.46 92.08 L663.11 88.1 L663.35 88.94 L663.04 88.1 L663.79 87.46 L663.3 87.38 L663.92 88.24 L663.57 87.75 L663.54 87.94 L664.18 87.76 L663.77 87.33 L663.39 88.52 L664.72 89.5 L664.19 90.39 L664.57 90.58 L664.7 88.28 L664.26 88.49 L664.26 92.37 L664.78 93.12 L664.66 92.22 L664.79 92.22 L664.13 94.36 L664.72 92.54 L664.7 95.05 L664.79 92.77 L664.01 92.91 L664.94 95.23 L664.59 96.43 L665.12 96.78 L665.55 97.13 L664.93 97.06 L665 96.7 L665 96.13 L664.81 96.9 L665.35 96.25 L665.75 99.03 L664.89 99.31 L665.33 98.93 L665.06 98.56 L665.03 99.08 L664.89 97.99 L664.86 98.67 L665.74 98.7 L666.02 99.9 L666.42 99.26 L666.47 99.13 L666.25 99.4 L667.01 99.23 L667.19 98.42 L667.29 97.87 L667.51 97.96 L667.76 97.6 L668.18 98.46 L668.5 97.29 L669.54 97.81 L669.33 96.61 L669.42 96.86 L669.39 98.22 L669.68 98.52 L670.37 98.44 L670.06 98.5 L670.52 97.74 L670.86 97.51 L670.53 97.93 L671.34 96.2 L671.04 96.24 L671.12 96.57 L671 97.25 L671.64 98.3 L671.28 98.43 L671.6 96.98 L671.27 98.13 L671.82 98.68 L671.74 98.71 L671.8 98.5 L672.42 99.75 L672.05 100.15 L671.84 99.87 L672.21 99.65 L672.7 99.26 L672.03 99.38 L672.34 99.71 L672.4 100.05 L672.24 100.38 L672.35 100.83 L672.82 101.48 L672.57 102.94 L672.69 102.31 L673.3 103.11 L673.29 102.48 L673.3 102.79 L673.02 103.09 L673.58 103.92 L673.54 104.4 L673.72 104.1 L674 105.6 L674.21 105.21 L674.23 105.08 L674.57 105.72 L674.76 105.53 L675.02 105.84 L674.86 106.41 L675.03 106.45 L675.31 107.01 L675.33 107.58 L675.71 108.35 L676.06 108.35 L676.41 108.35 L676.76 108.35 L677.11 108.35 L677.46 108.35 L677.81 108.35 L678.16 108.35 L678.51 108.35 L678.86 108.35 L679.21 108.35 L679.55 108.35 L679.9 108.35 L680.25 108.35 L680.6 108.35 L680.95 108.35 L681.3 108.35 L681.65 108.35 L682 108.35 L682.35 108.35 L682.7 108.35 L683.05 108.35 L683.4 108.35 L683.75 108.35 L684.1 108.35 L684.45 108.35 L684.8 108.35 L685.15 108.35 L685.5 108.35 L685.85 108.35 L686.2 108.35 L686.55 108.35 L686.9 108.35 L687.25 108.35 L687.6 108.35 L687.95 108.35 L688.3 108.35 L688.65 108.35 L689 108.35 L689.35 108.35 L689.7 108.35 L690.05 108.35 L690.4 108.35 L690.75 108.35 L691.1 108.35 L691.45 108.35 L691.8 108.35 L692.15 108.35 L692.5 108.35 L692.85 108.35 L693.2 108.35 L693.55 108.35 L693.9 108.35 L694.25 108.35 L694.6 108.35 L694.95 108.35 L695.3 108.35 L695.65 108.35 L696 108.35 L696.35 108.35 L696.7 108.35 L697.05 108.35 L697.4 108.35 L697.75 108.35 L698.1 108.35 L698.44 108.35 L698.79 108.35 L699 108.1 L699.21 108.15 L699.6 108.72 L699.64 108.92 L700.13 109.19 L700.1 109.18 L700.44 109.15 L700.61 108.59 L700.51 107.92 L700.67 107.63 L700.88 107.52 L701.05 107.04 L701.35 106.75 L701.46 106.46 L701.67 106.67 L702.09 106.88 L702.1 107.08 L702.58 107.82 L702.3 108.49 L703.1 108.78 L703.12 108.9 L703.49 109.63 L703.81 109.33 L703.83 109.13 L704.16 108.4 L704.18 108.47 L704.34 108.11 L704.73 108.13 L705.12 107.5 L705.29 107.23 L705.36 107.43 L705.66 106.08 L705.84 106.5 L706.2 106.27 L706.36 105.74 L706.58 105.36 L706.89 105.89 L706.89 106.13 L707.01 106.27 L707.31 107.03 L707.57 107.28 L707.39 107.62 L707.37 108.07 L707.23 108.63 L708 108.97 L707.58 108.68 L707.85 109.61 L707.7 109.57 L707.91 109.76 L707.99 110.48 L708.19 110.98 L708.1 111.31 L708.43 110.86 L708.51 109.52 L708.83 109.77 L709.05 109 L709.34 108.95 L709.25 108.87 L709.62 109.13 L709.94 109.05 L709.91 108.69 L710.5 108.66 L710.46 109.05 L710.81 109.45 L711 110.11 L711.1 110.16 L711.44 110.16 L711.56 110.97 L711.71 110.48 L711.96 110.16 L712.07 109.78 L712.17 109.08 L712.41 108.9 L712.31 108.9 L712.56 108.57 L712.66 107.63 L712.75 107.58 L712.87 107.72 L712.88 108.19 L712.97 108.6 L712.92 108.99 L713.16 108.9 L712.94 109.12 L713.28 109.65 L713.07 109.75 L713.08 110.21 L713.15 110.2 L713.43 111.24 L713.25 111.75 L713.4 111.77 L713.53 112.43 L713.5 112.78 L713.58 113.05 L713.45 113.12 L713.74 113.17 L713.68 113.37 L713.81 113.76 L713.92 114.09 L713.66 114.12 L714.13 114.96 L713.93 114.56 L714.21 115.39 L714.06 116.04 L714.1 116.73 L714.52 117.02 L714.28 117.4 L714.4 117.4 L714.65 117.19 L714.95 116.96 L715.41 116.77 L715.35 116.3 L715.75 116.35 L715.95 116.14 L716.14 115.14 L716.45 114.92 L716.61 115.89 L717.01 116.53 L717.35 116.3 L717.57 116.03 L717.66 116.68 L718.03 116.3 L718.25 116.04 L718.56 115.93 L718.86 115.65 L718.96 115.46 L719.49 115.27 L719.86 115.08 L720.05 114.89 L720.24 115.53 L720.32 115.19 L720.68 116.27 L721.07 115.7 L721.16 116.95 L720.98 117.24 L721.79 116.76 L721.91 117.74 L722.07 118.34 L722.26 118.61 L722.65 117.44 L723.09 118.1 L723.07 117.91 L723.14 117.54 L723.85 116.98 L724.07 117.11 L724.43 117.39 L724.53 116.43 L725.04 116.47 L725.12 117.42 L725.24 117.41 L725.33 117.13 L725.69 117.95 L725.79 118.58 L726.22 118.8 L726.31 119.09 L726.3 119.68 L726.73 119.4 L726.76 119.25 L727.05 119.97 L727.3 120.35 L727.37 121.07 L727.63 120.98 L727.77 121.13 L727.97 120.91 L728.2 120.68 L728.56 119.41 L728.82 119.99 L728.99 119.57 L729.13 119.44 L729.31 118.76 L729.74 118.23 L730.15 118.03 L730.39 118.22 L730.44 119.12 L730.87 119.61 L730.97 120.3 L731.61 120.08 L731.45 120.4 L731.85 120.59 L732.29 120.49 L732.42 120.4 L732.85 120.17 L733.09 119.61 L733.33 119.5 L733.58 120.01 L733.6 119.87 L733.94 120.08 L733.82 120.54 L734.17 120.84 L734.05 121.64 L734.33 121.35 L734.38 122.02 L734.33 121.59 L734.64 122.62 L734.58 122.94 L734.94 122.67 L734.75 123.08 L734.9 123.4 L735.03 124.19 L735.05 123.91 L735.23 123.99 L735.14 122.78 L735.21 122.37 L735.31 121.67 L735.15 121.23 L735.45 121.25 L735.48 120.52 L735.46 121.06 L735.6 120.48 L735.86 120.17 L735.8 119.93 L735.74 119.2 L735.83 118.51 L735.87 118.18 L736.01 117.83 L735.95 117.49 L735.89 117.35 L735.78 117.81 L735.79 116.95 L735.86 116.61 L736.07 116.29 L735.87 116.71 L736.19 116.29 L736.14 115.86 L736.04 115.9 L735.94 115.44 L736.22 114.98 L736.13 114.37 L736.48 113.82 L736.13 113.23 L736.25 112.61 L736.4 111.99 L736.09 111.65 L736.29 111.89 L736.11 111 L736.32 110.74 L736.33 110.27 L736.53 110.68 L736.43 109.91 L736.26 109.24 L736.51 108.89 L736.25 108.71 L736.39 108.99 L736.51 109.34 L736.47 108.1 L736.66 108.14 L736.55 107.17 L736.45 106.99 L736.58 107.1 L736.41 106.16 L736.43 105.58 L736.82 105.63 L737.25 105.65 L737.41 105.99 L737.86 105.01 L737.81 104.94 L738.3 104.94 L738.38 105.09 L738.43 105.4 L738.84 105.71 L738.81 106.01 L738.98 106.32 L739.15 106.7 L738.89 107.1 L739.05 107.78 L739.4 108.83 L739.33 109.14 L739.49 109.67 L739.66 109.67 L739.99 109.77 L740.21 109.17 L740.65 108.62 L740.69 108.82 L740.91 108.54 L741.24 108.39 L741.47 107.83 L741.83 106.87 L742.03 107.28 L742.27 106.82 L742.48 106.63 L742.78 106.73 L743.15 106.86 L743.37 107.09 L743.59 107.24 L743.96 106.87 L743.98 107.61 L744.1 106.34 L744.22 106.16 L744.46 106.34 L744.77 106.11 L745.13 106.38 L745.07 105.74 L745.33 105.73 L745.51 105.33 L745.75 104.98 L745.93 104.76 L746.21 104.27 L746.35 104.2 L746.78 103.34 L746.91 103.24 L747.25 103.14 L747.3 103.03 L747.73 103.1 L748.06 103.55 L748.35 103.48 L748.99 102.88 L748.97 103.46 L749.38 102.6 L749.82 102.46 L750.15 102.44 L750.5 103.49 L750.32 102.77 L750.75 103.31 L750.59 103.82 L750.88 104.25 L751.07 104.97 L750.84 104.88 L751.41 105.02 L751.47 106.04 L751.36 105.84 L751.67 106.61 L751.75 106.42 L751.91 105.97 L752.45 106.37 L752.36 106.02 L752.85 106.03 L753.09 105.95 L753.3 105.64 L753.67 105.55 L754 105.35 L754.11 105 L754.43 104.37 L754.71 104.2 L755.04 104.2 L755.38 104.2 L755.71 104.2 L756.05 104.2 L756.38 104.2 L756.72 104.2 L757.05 104.2 L757.39 104.2 L757.72 104.2 L758.06 104.2 L758.39 104.2 L758.73 104.2 L759.06 104.2 L759.12 103.47 L759.28 103.76 L759.88 102.89 L759.76 102.35 L760.05 102.18 L760.19 102.25 L760.7 102.35 L760.43 101.88 L760.73 102.1 L760.68 101.25 L760.91 101.16 L761.18 100.97 L761.16 101.13 L761.38 101.92 L761.5 102.5 L761.81 103.26 L761.71 103.05 L761.91 103.47 L761.95 104.37 L762.15 104.68 L762.32 104.07 L762.41 104 L762.77 105.12 L763.03 104.41 L763.31 104.78 L763.53 103.61 L763.94 103.62 L763.99 103.33 L764.4 103.12 L764.45 103.54 L764.93 103.64 L765.29 103.31 L765.18 103.27 L765.35 102.94 L765.36 102.6 L765.12 101.75 L765.31 100.53 L765.33 101.11 L765.29 100.98 L765.39 100.93 L765.47 100.28 L765.41 99.67 L765.77 98.96 L765.67 98.19 L765.73 98.37 L765.51 97.57 L765.76 97.08 L765.79 97.46 L765.96 97.54 L766.3 97.4 L766.58 97.56 L767.04 96.81 L767.14 96.68 L767.41 97.07 L767.5 97.07 L768.11 96.27 L768.46 97.68 L768.51 97.47 L769 98.07 L769.47 97.44 L769.5 97.72 L769.94 97.93 L770.01 97.56 L770.24 97.13 L770.87 96.8 L771 96.6 L771.35 96.64 L771.76 97.03 L771.79 96.91 L771.89 96.43 L772.1 96.01 L772.73 95.95 L772.99 95.62 L773.13 95.66 L773.57 95.11 L773.49 94.96 L773.8 95.19 L773.89 94.82 L774.38 93.96 L774.37 94.34 L774.79 94.7 L774.91 94.19 L775.27 93.66 L775.07 93.14 L775.44 92.82 L775.59 92.18 L775.92 92.55 L776.19 91.39 L776.17 91.59 L776.34 91.35 L776.46 91.5 L777.05 90.87 L776.88 90.83 L777.33 90.65 L777.35 91.07 L777.51 90.7 L777.73 90.37 L777.76 90.89 L777.86 91.23 L777.93 91.39 L777.99 91.52 L778.03 91.57 L777.95 91.87 L778.05 92.34 L778.31 93.25 L777.9 93.62 L778.23 93.97 L778.13 94.33 L778.11 94.56 L778.35 93.9 L778.38 94.3 L778.35 94.21 L778.42 95.3 L778.57 95.73 L778.44 96.12 L778.71 97.02 L778.55 96.73 L778.64 96.91 L778.63 97.31 L779.04 97.37 L779.38 97.37 L779.71 97.37 L780.04 97.37 L780.38 97.37 L780.71 97.37 L781.05 97.37 L781.38 97.37 L781.72 97.37 L782.05 97.37 L782.39 97.37 L782.72 97.37 L783.06 97.37 L783.39 97.37 L783.73 97.37 L784.06 97.37 L784.4 97.37 L784.73 97.37 L785.07 97.37 L785.4 97.37 L785.74 97.37 L786.07 97.37 L786.29 97.6 L786.62 97.56 L786.59 97.41 L787.02 97.64 L787.16 98.5 L787.35 98.87 L787.37 99.07 L787.48 98.19 L787.5 97.76 L787.5 97 L787.53 97.06 L787.46 96.79 L787.62 96.12 L787.58 96.27 L787.81 95.69 L787.73 95.29 L787.76 95.29 L787.87 95.3 L787.99 94.44 L788.14 94.08 L788.26 93.81 L788.11 92.82 L788.16 93.33 L788.22 92.92 L788.27 92.12 L788.27 91.86 L788.36 91.4 L788.4 91.12 L788.2 90.94 L788.28 90.48 L788.38 89.91 L788.51 89.38 L788.21 89.04 L788.56 89.38 L788.63 89.71 L788.91 90.38 L788.5 90.82 L788.72 91.23 L788.73 92.56 L789.06 92.53 L788.94 92.78 L789.26 93.29 L788.93 93.4 L789.16 94.03 L789.3 93.8 L789.32 94.6 L789.57 94.15 L789.38 94.82 L789.31 95.91 L789.57 95.42 L789.61 96.58 L789.46 96.91 L789.52 96.74 L789.59 96.68 L789.75 97.12 L789.8 97.54 L789.93 97.8 L789.63 97.42 L790.09 97.76 L790.07 99.3 L789.97 99.24 L790.09 98.56 L790 97.84 L790.19 97.39 L790.31 97.05 L790.09 97.08 L790.09 96.54 L790.07 96.01 L790.43 96.04 L790.44 95.33 L790.49 95.99 L790.29 95.13 L790.66 94.29 L790.58 94.48 L790.67 94.93 L790.61 94.61 L790.85 94.41 L790.59 93.67 L790.8 93.15 L790.7 92.83 L790.52 92.75 L790.83 92.6 L790.72 92.34 L790.77 91.8 L791.2 90.81 L790.99 90.29 L790.76 90.48 L790.83 89.86 L790.93 89.75 L790.97 88.64 L791.26 88.91 L791.26 88.44 L790.85 87.39 L791.01 87.34 L791.27 86.76 L791.51 87.01 L791.79 86.26 L792.07 86.29 L792.07 85.81 L792.53 86.4 L792.89 85.89 L793.01 85.86 L792.9 86.1 L792.98 87.07 L793.03 87.13 L793.23 87.48 L793.1 87.61 L793.18 88.04 L793.38 88.29 L793.4 88.38 L793.71 89.24 L793.51 89.71 L793.45 90.67 L793.7 90.79 L793.77 91.05 L794.01 91.3 L794.08 91.53 L794.23 91.95 L793.84 92.26 L794.2 92.86 L793.99 92.76 L794.44 93.26 L794.32 94.09 L794.33 93.85 L794.62 94.74 L794.84 94.98 L794.81 95.05 L794.92 95.53 L794.94 95.03 L794.99 95.88 L795.06 95.7 L795.18 95.64 L795.41 96.37 L795.46 96.69 L795.44 97.26 L795.8 97.37 L796.14 97.37 L796.49 97.37 L796.84 97.37 L797.19 97.37 L797.54 97.37 L797.89 97.37 L798.24 97.37 L798.59 97.37 L798.94 97.37 L799.28 97.37 L799.63 97.37 L799.98 97.37 L800.33 97.37 L800.68 97.37 L801.03 97.37 L801.38 97.37 L801.73 97.37 L802.08 97.37 L802.43 97.37 L802.77 97.37 L803.12 97.37 L803.47 97.37 L803.82 97.37 L804.17 97.38 L804.52 97.38 L804.87 97.38 L805.22 97.38 L805.57 97.38 L805.91 97.38 L806.26 97.38 L806.61 97.38 L806.96 97.38 L807.31 97.38 L807.66 97.38 L808.01 97.38 L808.36 97.38 L808.71 97.38 L809.06 97.38 L809.4 97.38 L809.75 97.38 L810.1 97.38 L810.45 97.38 L810.8 97.38 L811.15 97.38 L811.5 97.38 L811.85 97.38 L812.2 97.38 L812.55 97.38 L812.89 97.38 L813.24 97.38 L813.59 97.39 L813.94 97.39 L814.29 97.39 L814.64 97.39 L814.99 97.39 L815.34 97.39 L815.69 97.39 L816.03 97.39 L816.38 97.39 L816.73 97.39 L817.08 97.39 L817.43 97.39 L817.78 97.39 L818.13 97.39 L818.48 97.39 L818.83 97.39 L819.18 97.39 L819.52 97.39 L819.87 97.39 L820.22 97.39 L820.57 97.39 L820.92 97.39 L821.27 97.39 L821.62 97.39 L821.97 97.39 L822.32 97.39 L822.66 97.39 L823.01 97.4 L823.36 97.4 L823.71 97.4 L824.06 97.4 L824.41 97.4 L824.76 97.4 L825.11 97.4 L825.46 97.4 L825.81 97.4 L826.15 97.4 L826.5 97.4 L826.85 97.4 L827.2 97.4 L827.55 97.4 L827.9 97.4 L828.25 97.4 L828.6 97.4 L828.95 97.4 L829.29 97.4 L829.64 97.4 L829.99 97.4 L830.34 97.4 L830.69 97.4 L831.04 97.4 L831.39 97.4 L831.74 97.4 L832.09 97.4 L832.44 97.41 L832.78 97.41 L833.13 97.41 L833.48 97.41 L833.75 97.91 L833.96 97.42 L834.1 97.97 L833.99 97.84 L834.4 97.27 L834.68 97.07 L835.12 96.84 L834.63 96.43 L835.15 96.54 L835.38 96.88 L835.72 95.79 L835.46 95.49 L836.02 95.02 L836.06 94.85 L836.37 95.03 L836.62 94.76 L836.65 95.39 L836.98 94.33 L837.18 94.39 L837.23 94.2 L837.65 93.72 L837.87 93.87 L837.68 94.18 L838.12 93.36 L838.28 93.14 L838.51 92.39 L838.74 92.98 L839.14 92.69 L839.16 91.28 L839.24 91.58 L839.52 92.33 L839.56 91.72 L839.42 92.06 L839.63 92.77 L839.3 93.06 L839.59 93.07 L839.47 94.05 L839.6 94.08 L839.67 94.24 L839.77 94.49 L839.45 95.01 L839.65 95.92 L839.64 96.7 L839.68 97.28 L839.92 97.39 L839.75 97.75 L839.69 97.61 L839.74 97.26 L839.51 97.47 L839.52 97.99 L839.63 98.48" fill="none" stroke="#1f77b4" stroke-width="2.92" stroke-linejoin="round" stroke-linecap="butt"/>
<rect x="99" y="52" width="776" height="538" fill="none" stroke="#383838" stroke-width="2"/>
<path d="M134 591 V597 M232 591 V597 M330 591 V597 M428 591 V597 M526 591 V597 M624 591 V597 M722 591 V597 M820 591 V597 M98 87 H92 M98 200 H92 M98 314 H92 M98 427 H92 M98 541 H92" stroke="#383838" stroke-width="2" fill="none"/>
<g font-size="19.44" text-anchor="middle">
<text x="133.75" y="618.5">0</text>
<text x="231.79" y="618.5" textLength="48.3">2000</text>
<text x="329.83" y="618.5" textLength="48.3">4000</text>
<text x="427.87" y="618.5" textLength="48.3">6000</text>
<text x="525.91" y="618.5" textLength="48.3">8000</text>
<text x="623.95" y="618.5" textLength="60.8">10000</text>
<text x="721.99" y="618.5" textLength="60.8">12000</text>
<text x="820.03" y="618.5" textLength="60.8">14000</text>
</g>
<g font-size="19.44" text-anchor="end">
<text x="84.9" y="94.3" textLength="35.6">110</text>
<text x="84.9" y="207.77" textLength="35.6">100</text>
<text x="84.9" y="321.25" textLength="24.1">90</text>
<text x="84.9" y="434.72" textLength="24.1">80</text>
<text x="84.9" y="548.2" textLength="24.1">70</text>
</g>
<text x="487.1" y="645.5" font-size="19.44" text-anchor="middle" textLength="76.12">Trade #</text>
<text transform="translate(38.2 323.43) rotate(-90)" font-size="19.44" text-anchor="middle">Equity</text>
<text x="486.8" y="40.6" font-size="23.33" text-anchor="middle" textLength="205.87">Equity vs Trade #</text>
<rect x="109" y="62" width="478" height="36" rx="3.9" ry="3.9" fill="#ffffff" fill-opacity="0.8" stroke="#cccccc" stroke-opacity="0.8" stroke-width="2"/>
<path d="M116 78.5 H156.9" stroke="#1f77b4" stroke-width="2.92" fill="none"/>
<text x="171.1" y="84.9" font-size="19.44" textLength="408.37">cfg_merged.yaml | TF: 1440 | bars: 14400</text>
</svg></body></html>
